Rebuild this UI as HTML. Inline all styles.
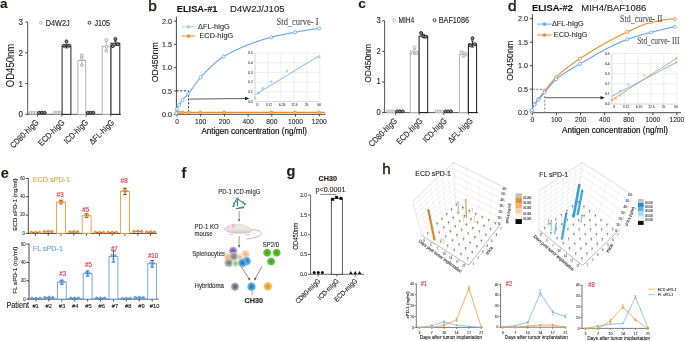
<!DOCTYPE html>
<html><head><meta charset="utf-8"><style>
html,body{margin:0;padding:0;background:#fff;overflow:hidden;}
svg{display:block;font-family:"Liberation Sans", sans-serif;filter:blur(0.35px);}
text{stroke:currentColor;stroke-width:0.12px;paint-order:stroke;}
</style></head><body>
<svg width="685" height="341" viewBox="0 0 685 341">
<rect width="685" height="341" fill="#fff"/>
<text x="0.00" y="7.90" font-size="13.5" text-anchor="start" font-weight="bold" fill="#231815" color="#231815">a</text>
<text x="148.20" y="10.90" font-size="15.4" text-anchor="start" font-weight="normal" fill="#231815" color="#231815" style="stroke-width:0.4px">b</text>
<text x="358.20" y="8.20" font-size="13.5" text-anchor="start" font-weight="bold" fill="#231815" color="#231815">c</text>
<text x="507.90" y="10.90" font-size="15.4" text-anchor="start" font-weight="normal" fill="#231815" color="#231815" style="stroke-width:0.4px">d</text>
<text x="0.80" y="177.80" font-size="14.5" text-anchor="start" font-weight="bold" fill="#231815" color="#231815">e</text>
<text x="181.60" y="177.60" font-size="14.5" text-anchor="start" font-weight="bold" fill="#231815" color="#231815">f</text>
<text x="286.60" y="175.70" font-size="14.5" text-anchor="start" font-weight="bold" fill="#231815" color="#231815">g</text>
<text x="382.20" y="173.90" font-size="15.2" text-anchor="start" font-weight="normal" fill="#231815" color="#231815" style="stroke-width:0.4px">h</text>
<line x1="27.70" y1="22.05" x2="27.70" y2="114.80" stroke="#444" stroke-width="0.9"/>
<line x1="25.30" y1="114.30" x2="27.70" y2="114.30" stroke="#444" stroke-width="1.0"/>
<text x="23.00" y="117.40" font-size="9.2" text-anchor="end" font-weight="normal" fill="#222" color="#222" textLength="4.45" lengthAdjust="spacingAndGlyphs">0</text>
<line x1="25.30" y1="83.55" x2="27.70" y2="83.55" stroke="#444" stroke-width="1.0"/>
<text x="23.00" y="86.65" font-size="9.2" text-anchor="end" font-weight="normal" fill="#222" color="#222" textLength="4.45" lengthAdjust="spacingAndGlyphs">1</text>
<line x1="25.30" y1="52.80" x2="27.70" y2="52.80" stroke="#444" stroke-width="1.0"/>
<text x="23.00" y="55.90" font-size="9.2" text-anchor="end" font-weight="normal" fill="#222" color="#222" textLength="4.45" lengthAdjust="spacingAndGlyphs">2</text>
<line x1="25.30" y1="22.05" x2="27.70" y2="22.05" stroke="#444" stroke-width="1.0"/>
<text x="23.00" y="25.15" font-size="9.2" text-anchor="end" font-weight="normal" fill="#222" color="#222" textLength="4.45" lengthAdjust="spacingAndGlyphs">3</text>
<line x1="27.30" y1="114.30" x2="121.00" y2="114.30" stroke="#444" stroke-width="0.9"/>
<line x1="37.50" y1="114.30" x2="37.50" y2="116.50" stroke="#444" stroke-width="0.9"/>
<line x1="61.80" y1="114.30" x2="61.80" y2="116.50" stroke="#444" stroke-width="0.9"/>
<line x1="86.20" y1="114.30" x2="86.20" y2="116.50" stroke="#444" stroke-width="0.9"/>
<line x1="110.70" y1="114.30" x2="110.70" y2="116.50" stroke="#444" stroke-width="0.9"/>
<line x1="28.80" y1="112.76" x2="37.50" y2="112.76" stroke="#b0b0b0" stroke-width="1.0"/>
<circle cx="30.45" cy="112.76" r="1.5" fill="#e4e4e4" stroke="#b0b0b0" stroke-width="0.85"/>
<circle cx="33.15" cy="112.76" r="1.5" fill="#e4e4e4" stroke="#b0b0b0" stroke-width="0.85"/>
<circle cx="35.85" cy="112.76" r="1.5" fill="#e4e4e4" stroke="#b0b0b0" stroke-width="0.85"/>
<line x1="37.50" y1="112.76" x2="46.30" y2="112.76" stroke="#151515" stroke-width="1.0"/>
<circle cx="39.20" cy="112.76" r="1.5" fill="#8a8a8a" stroke="#151515" stroke-width="0.85"/>
<circle cx="41.90" cy="112.76" r="1.5" fill="#8a8a8a" stroke="#151515" stroke-width="0.85"/>
<circle cx="44.60" cy="112.76" r="1.5" fill="#8a8a8a" stroke="#151515" stroke-width="0.85"/>
<line x1="53.00" y1="112.76" x2="61.80" y2="112.76" stroke="#b0b0b0" stroke-width="1.0"/>
<circle cx="54.70" cy="112.76" r="1.5" fill="#e4e4e4" stroke="#b0b0b0" stroke-width="0.85"/>
<circle cx="57.40" cy="112.76" r="1.5" fill="#e4e4e4" stroke="#b0b0b0" stroke-width="0.85"/>
<circle cx="60.10" cy="112.76" r="1.5" fill="#e4e4e4" stroke="#b0b0b0" stroke-width="0.85"/>
<rect x="62.10" y="46.03" width="8.80" height="68.27" fill="white" stroke="#151515" stroke-width="0.95"/>
<line x1="66.50" y1="44.19" x2="66.50" y2="47.88" stroke="#151515" stroke-width="0.8"/>
<line x1="65.00" y1="44.19" x2="68.00" y2="44.19" stroke="#151515" stroke-width="0.8"/>
<line x1="65.00" y1="47.88" x2="68.00" y2="47.88" stroke="#151515" stroke-width="0.8"/>
<circle cx="64.00" cy="45.73" r="1.5" fill="#8a8a8a" stroke="#151515" stroke-width="0.85"/>
<circle cx="66.50" cy="41.42" r="1.5" fill="#8a8a8a" stroke="#151515" stroke-width="0.85"/>
<circle cx="69.00" cy="45.73" r="1.5" fill="#8a8a8a" stroke="#151515" stroke-width="0.85"/>
<rect x="77.90" y="60.49" width="7.80" height="53.81" fill="white" stroke="#b0b0b0" stroke-width="0.95"/>
<line x1="81.80" y1="56.49" x2="81.80" y2="64.48" stroke="#b0b0b0" stroke-width="0.8"/>
<line x1="80.30" y1="56.49" x2="83.30" y2="56.49" stroke="#b0b0b0" stroke-width="0.8"/>
<line x1="80.30" y1="64.48" x2="83.30" y2="64.48" stroke="#b0b0b0" stroke-width="0.8"/>
<circle cx="81.80" cy="55.26" r="1.5" fill="#e4e4e4" stroke="#b0b0b0" stroke-width="0.85"/>
<circle cx="81.80" cy="58.03" r="1.5" fill="#e4e4e4" stroke="#b0b0b0" stroke-width="0.85"/>
<circle cx="81.80" cy="65.10" r="1.5" fill="#e4e4e4" stroke="#b0b0b0" stroke-width="0.85"/>
<line x1="86.20" y1="112.76" x2="95.00" y2="112.76" stroke="#151515" stroke-width="1.0"/>
<circle cx="87.90" cy="112.76" r="1.5" fill="#8a8a8a" stroke="#151515" stroke-width="0.85"/>
<circle cx="90.60" cy="112.76" r="1.5" fill="#8a8a8a" stroke="#151515" stroke-width="0.85"/>
<circle cx="93.30" cy="112.76" r="1.5" fill="#8a8a8a" stroke="#151515" stroke-width="0.85"/>
<rect x="102.20" y="46.34" width="8.30" height="67.96" fill="white" stroke="#b0b0b0" stroke-width="0.95"/>
<line x1="106.35" y1="41.73" x2="106.35" y2="50.95" stroke="#b0b0b0" stroke-width="0.8"/>
<line x1="104.85" y1="41.73" x2="107.85" y2="41.73" stroke="#b0b0b0" stroke-width="0.8"/>
<line x1="104.85" y1="50.95" x2="107.85" y2="50.95" stroke="#b0b0b0" stroke-width="0.8"/>
<circle cx="106.35" cy="39.89" r="1.5" fill="#e4e4e4" stroke="#b0b0b0" stroke-width="0.85"/>
<circle cx="106.35" cy="46.65" r="1.5" fill="#e4e4e4" stroke="#b0b0b0" stroke-width="0.85"/>
<circle cx="106.35" cy="50.65" r="1.5" fill="#e4e4e4" stroke="#b0b0b0" stroke-width="0.85"/>
<rect x="111.00" y="43.27" width="8.80" height="71.03" fill="white" stroke="#151515" stroke-width="0.95"/>
<line x1="115.40" y1="41.11" x2="115.40" y2="45.42" stroke="#151515" stroke-width="0.8"/>
<line x1="113.90" y1="41.11" x2="116.90" y2="41.11" stroke="#151515" stroke-width="0.8"/>
<line x1="113.90" y1="45.42" x2="116.90" y2="45.42" stroke="#151515" stroke-width="0.8"/>
<circle cx="115.40" cy="38.96" r="1.5" fill="#8a8a8a" stroke="#151515" stroke-width="0.85"/>
<circle cx="112.90" cy="46.03" r="1.5" fill="#8a8a8a" stroke="#151515" stroke-width="0.85"/>
<circle cx="117.90" cy="44.19" r="1.5" fill="#8a8a8a" stroke="#151515" stroke-width="0.85"/>
<text x="13.70" y="65.50" font-size="11.11" text-anchor="middle" font-weight="normal" fill="#222" color="#222" transform="rotate(-90 13.7 65.5)" textLength="43.3" lengthAdjust="spacingAndGlyphs">OD450nm</text>
<text x="39.20" y="123.00" font-size="8.42" text-anchor="end" font-weight="normal" fill="#222" color="#222" transform="rotate(-45 39.2 123.0)" textLength="36.42" lengthAdjust="spacingAndGlyphs">CD80-hIgG</text>
<text x="65.10" y="123.00" font-size="8.42" text-anchor="end" font-weight="normal" fill="#222" color="#222" transform="rotate(-45 65.1 123.0)" textLength="33.21" lengthAdjust="spacingAndGlyphs">ECD-hIgG</text>
<text x="88.70" y="123.00" font-size="8.42" text-anchor="end" font-weight="normal" fill="#222" color="#222" transform="rotate(-45 88.7 123.0)" textLength="30.41" lengthAdjust="spacingAndGlyphs">ICD-hIgG</text>
<text x="114.70" y="123.00" font-size="8.42" text-anchor="end" font-weight="normal" fill="#222" color="#222" transform="rotate(-45 114.7 123.0)" textLength="31.22" lengthAdjust="spacingAndGlyphs">ΔFL-hIgG</text>
<circle cx="40.80" cy="22.70" r="1.45" fill="white" stroke="#b0b0b0" stroke-width="0.85"/>
<text x="45.70" y="25.90" font-size="8.19" text-anchor="start" font-weight="normal" fill="#222" color="#222" textLength="24.0" lengthAdjust="spacingAndGlyphs">D4W2J</text>
<circle cx="89.50" cy="22.70" r="1.45" fill="white" stroke="#151515" stroke-width="0.85"/>
<text x="94.40" y="25.90" font-size="8.19" text-anchor="start" font-weight="normal" fill="#222" color="#222" textLength="15.6" lengthAdjust="spacingAndGlyphs">J105</text>
<line x1="384.60" y1="20.80" x2="384.60" y2="113.10" stroke="#444" stroke-width="0.9"/>
<line x1="382.20" y1="112.60" x2="384.60" y2="112.60" stroke="#444" stroke-width="1.0"/>
<text x="380.80" y="115.00" font-size="8.36" text-anchor="end" font-weight="normal" fill="#222" color="#222" textLength="4.23" lengthAdjust="spacingAndGlyphs">0</text>
<line x1="382.20" y1="82.00" x2="384.60" y2="82.00" stroke="#444" stroke-width="1.0"/>
<text x="380.80" y="84.40" font-size="8.36" text-anchor="end" font-weight="normal" fill="#222" color="#222" textLength="4.23" lengthAdjust="spacingAndGlyphs">1</text>
<line x1="382.20" y1="51.40" x2="384.60" y2="51.40" stroke="#444" stroke-width="1.0"/>
<text x="380.80" y="53.80" font-size="8.36" text-anchor="end" font-weight="normal" fill="#222" color="#222" textLength="4.23" lengthAdjust="spacingAndGlyphs">2</text>
<line x1="382.20" y1="20.80" x2="384.60" y2="20.80" stroke="#444" stroke-width="1.0"/>
<text x="380.80" y="23.20" font-size="8.36" text-anchor="end" font-weight="normal" fill="#222" color="#222" textLength="4.23" lengthAdjust="spacingAndGlyphs">3</text>
<line x1="384.20" y1="112.60" x2="478.00" y2="112.60" stroke="#444" stroke-width="0.9"/>
<line x1="395.50" y1="112.60" x2="395.50" y2="114.80" stroke="#444" stroke-width="0.9"/>
<line x1="419.20" y1="112.60" x2="419.20" y2="114.80" stroke="#444" stroke-width="0.9"/>
<line x1="443.80" y1="112.60" x2="443.80" y2="114.80" stroke="#444" stroke-width="0.9"/>
<line x1="468.40" y1="112.60" x2="468.40" y2="114.80" stroke="#444" stroke-width="0.9"/>
<line x1="386.50" y1="111.38" x2="395.50" y2="111.38" stroke="#b0b0b0" stroke-width="1.0"/>
<circle cx="388.30" cy="111.38" r="1.5" fill="#e4e4e4" stroke="#b0b0b0" stroke-width="0.85"/>
<circle cx="391.00" cy="111.38" r="1.5" fill="#e4e4e4" stroke="#b0b0b0" stroke-width="0.85"/>
<circle cx="393.70" cy="111.38" r="1.5" fill="#e4e4e4" stroke="#b0b0b0" stroke-width="0.85"/>
<line x1="395.50" y1="111.38" x2="404.30" y2="111.38" stroke="#151515" stroke-width="1.0"/>
<circle cx="397.20" cy="111.38" r="1.5" fill="#8a8a8a" stroke="#151515" stroke-width="0.85"/>
<circle cx="399.90" cy="111.38" r="1.5" fill="#8a8a8a" stroke="#151515" stroke-width="0.85"/>
<circle cx="402.60" cy="111.38" r="1.5" fill="#8a8a8a" stroke="#151515" stroke-width="0.85"/>
<rect x="410.30" y="52.01" width="8.40" height="60.59" fill="white" stroke="#b0b0b0" stroke-width="1.0"/>
<line x1="414.50" y1="49.56" x2="414.50" y2="54.46" stroke="#b0b0b0" stroke-width="0.8"/>
<line x1="413.00" y1="49.56" x2="416.00" y2="49.56" stroke="#b0b0b0" stroke-width="0.8"/>
<line x1="413.00" y1="54.46" x2="416.00" y2="54.46" stroke="#b0b0b0" stroke-width="0.8"/>
<circle cx="414.50" cy="47.42" r="1.5" fill="#e4e4e4" stroke="#b0b0b0" stroke-width="0.85"/>
<circle cx="412.20" cy="52.32" r="1.5" fill="#e4e4e4" stroke="#b0b0b0" stroke-width="0.85"/>
<circle cx="416.80" cy="53.24" r="1.5" fill="#e4e4e4" stroke="#b0b0b0" stroke-width="0.85"/>
<rect x="419.10" y="36.10" width="8.60" height="76.50" fill="white" stroke="#151515" stroke-width="1.0"/>
<line x1="423.40" y1="34.57" x2="423.40" y2="37.63" stroke="#151515" stroke-width="0.8"/>
<line x1="421.90" y1="34.57" x2="424.90" y2="34.57" stroke="#151515" stroke-width="0.8"/>
<line x1="421.90" y1="37.63" x2="424.90" y2="37.63" stroke="#151515" stroke-width="0.8"/>
<circle cx="421.10" cy="33.04" r="1.5" fill="#8a8a8a" stroke="#151515" stroke-width="0.85"/>
<circle cx="423.40" cy="36.10" r="1.5" fill="#8a8a8a" stroke="#151515" stroke-width="0.85"/>
<circle cx="425.70" cy="36.71" r="1.5" fill="#8a8a8a" stroke="#151515" stroke-width="0.85"/>
<line x1="435.00" y1="111.38" x2="443.80" y2="111.38" stroke="#b0b0b0" stroke-width="1.0"/>
<circle cx="436.70" cy="111.38" r="1.5" fill="#e4e4e4" stroke="#b0b0b0" stroke-width="0.85"/>
<circle cx="439.40" cy="111.38" r="1.5" fill="#e4e4e4" stroke="#b0b0b0" stroke-width="0.85"/>
<circle cx="442.10" cy="111.38" r="1.5" fill="#e4e4e4" stroke="#b0b0b0" stroke-width="0.85"/>
<line x1="443.80" y1="111.38" x2="452.60" y2="111.38" stroke="#151515" stroke-width="1.0"/>
<circle cx="445.50" cy="111.38" r="1.5" fill="#8a8a8a" stroke="#151515" stroke-width="0.85"/>
<circle cx="448.20" cy="111.38" r="1.5" fill="#8a8a8a" stroke="#151515" stroke-width="0.85"/>
<circle cx="450.90" cy="111.38" r="1.5" fill="#8a8a8a" stroke="#151515" stroke-width="0.85"/>
<rect x="459.40" y="54.46" width="8.60" height="58.14" fill="white" stroke="#b0b0b0" stroke-width="1.0"/>
<line x1="463.70" y1="52.01" x2="463.70" y2="56.91" stroke="#b0b0b0" stroke-width="0.8"/>
<line x1="462.20" y1="52.01" x2="465.20" y2="52.01" stroke="#b0b0b0" stroke-width="0.8"/>
<line x1="462.20" y1="56.91" x2="465.20" y2="56.91" stroke="#b0b0b0" stroke-width="0.8"/>
<circle cx="461.40" cy="52.01" r="1.5" fill="#e4e4e4" stroke="#b0b0b0" stroke-width="0.85"/>
<circle cx="463.70" cy="55.99" r="1.5" fill="#e4e4e4" stroke="#b0b0b0" stroke-width="0.85"/>
<circle cx="466.00" cy="53.85" r="1.5" fill="#e4e4e4" stroke="#b0b0b0" stroke-width="0.85"/>
<rect x="468.40" y="44.06" width="8.20" height="68.54" fill="white" stroke="#151515" stroke-width="1.0"/>
<line x1="472.50" y1="41.00" x2="472.50" y2="47.12" stroke="#151515" stroke-width="0.8"/>
<line x1="471.00" y1="41.00" x2="474.00" y2="41.00" stroke="#151515" stroke-width="0.8"/>
<line x1="471.00" y1="47.12" x2="474.00" y2="47.12" stroke="#151515" stroke-width="0.8"/>
<circle cx="472.50" cy="38.24" r="1.5" fill="#8a8a8a" stroke="#151515" stroke-width="0.85"/>
<circle cx="470.20" cy="45.28" r="1.5" fill="#8a8a8a" stroke="#151515" stroke-width="0.85"/>
<circle cx="474.80" cy="44.36" r="1.5" fill="#8a8a8a" stroke="#151515" stroke-width="0.85"/>
<text x="370.60" y="63.40" font-size="9.95" text-anchor="middle" font-weight="normal" fill="#222" color="#222" transform="rotate(-90 370.6 63.4)" textLength="38.74" lengthAdjust="spacingAndGlyphs">OD450nm</text>
<text x="397.80" y="121.50" font-size="8.42" text-anchor="end" font-weight="normal" fill="#222" color="#222" transform="rotate(-45 397.8 121.5)" textLength="36.42" lengthAdjust="spacingAndGlyphs">CD80-hIgG</text>
<text x="423.20" y="121.50" font-size="8.42" text-anchor="end" font-weight="normal" fill="#222" color="#222" transform="rotate(-45 423.2 121.5)" textLength="33.21" lengthAdjust="spacingAndGlyphs">ECD-hIgG</text>
<text x="447.40" y="121.50" font-size="8.42" text-anchor="end" font-weight="normal" fill="#222" color="#222" transform="rotate(-45 447.40000000000003 121.5)" textLength="30.41" lengthAdjust="spacingAndGlyphs">ICD-hIgG</text>
<text x="473.40" y="121.50" font-size="8.42" text-anchor="end" font-weight="normal" fill="#222" color="#222" transform="rotate(-45 473.4 121.5)" textLength="31.22" lengthAdjust="spacingAndGlyphs">ΔFL-hIgG</text>
<circle cx="394.20" cy="20.20" r="1.45" fill="white" stroke="#b0b0b0" stroke-width="0.85"/>
<text x="398.40" y="22.70" font-size="8.19" text-anchor="start" font-weight="normal" fill="#222" color="#222" textLength="15.8" lengthAdjust="spacingAndGlyphs">MIH4</text>
<circle cx="434.50" cy="20.20" r="1.45" fill="white" stroke="#151515" stroke-width="0.85"/>
<text x="438.70" y="22.70" font-size="8.19" text-anchor="start" font-weight="normal" fill="#222" color="#222" textLength="30.3" lengthAdjust="spacingAndGlyphs">BAF1086</text>
<line x1="176.40" y1="16.60" x2="176.40" y2="114.80" stroke="#333" stroke-width="0.9"/>
<line x1="173.90" y1="114.30" x2="176.40" y2="114.30" stroke="#333" stroke-width="0.9"/>
<text x="172.00" y="116.80" font-size="7.56" text-anchor="end" font-weight="normal" fill="#2a2a2a" color="#2a2a2a" textLength="10.01" lengthAdjust="spacingAndGlyphs">0.0</text>
<line x1="173.90" y1="91.00" x2="176.40" y2="91.00" stroke="#333" stroke-width="0.9"/>
<text x="172.00" y="93.50" font-size="7.56" text-anchor="end" font-weight="normal" fill="#2a2a2a" color="#2a2a2a" textLength="10.01" lengthAdjust="spacingAndGlyphs">0.5</text>
<line x1="173.90" y1="67.70" x2="176.40" y2="67.70" stroke="#333" stroke-width="0.9"/>
<text x="172.00" y="70.20" font-size="7.56" text-anchor="end" font-weight="normal" fill="#2a2a2a" color="#2a2a2a" textLength="10.01" lengthAdjust="spacingAndGlyphs">1.0</text>
<line x1="173.90" y1="44.40" x2="176.40" y2="44.40" stroke="#333" stroke-width="0.9"/>
<text x="172.00" y="46.90" font-size="7.56" text-anchor="end" font-weight="normal" fill="#2a2a2a" color="#2a2a2a" textLength="10.01" lengthAdjust="spacingAndGlyphs">1.5</text>
<line x1="173.90" y1="21.10" x2="176.40" y2="21.10" stroke="#333" stroke-width="0.9"/>
<text x="172.00" y="23.60" font-size="7.56" text-anchor="end" font-weight="normal" fill="#2a2a2a" color="#2a2a2a" textLength="10.01" lengthAdjust="spacingAndGlyphs">2.0</text>
<line x1="176.00" y1="114.30" x2="325.50" y2="114.30" stroke="#333" stroke-width="0.9"/>
<line x1="177.00" y1="114.30" x2="177.00" y2="116.60" stroke="#333" stroke-width="0.9"/>
<text x="177.00" y="123.50" font-size="7.84" text-anchor="middle" font-weight="normal" fill="#2a2a2a" color="#2a2a2a" textLength="3.73" lengthAdjust="spacingAndGlyphs">0</text>
<line x1="200.70" y1="114.30" x2="200.70" y2="116.60" stroke="#333" stroke-width="0.9"/>
<text x="200.70" y="123.50" font-size="7.84" text-anchor="middle" font-weight="normal" fill="#2a2a2a" color="#2a2a2a" textLength="11.18" lengthAdjust="spacingAndGlyphs">100</text>
<line x1="224.40" y1="114.30" x2="224.40" y2="116.60" stroke="#333" stroke-width="0.9"/>
<text x="224.40" y="123.50" font-size="7.84" text-anchor="middle" font-weight="normal" fill="#2a2a2a" color="#2a2a2a" textLength="11.18" lengthAdjust="spacingAndGlyphs">200</text>
<line x1="248.10" y1="114.30" x2="248.10" y2="116.60" stroke="#333" stroke-width="0.9"/>
<text x="248.10" y="123.50" font-size="7.84" text-anchor="middle" font-weight="normal" fill="#2a2a2a" color="#2a2a2a" textLength="11.18" lengthAdjust="spacingAndGlyphs">400</text>
<line x1="271.80" y1="114.30" x2="271.80" y2="116.60" stroke="#333" stroke-width="0.9"/>
<text x="271.80" y="123.50" font-size="7.84" text-anchor="middle" font-weight="normal" fill="#2a2a2a" color="#2a2a2a" textLength="11.18" lengthAdjust="spacingAndGlyphs">800</text>
<line x1="295.50" y1="114.30" x2="295.50" y2="116.60" stroke="#333" stroke-width="0.9"/>
<text x="295.50" y="123.50" font-size="7.84" text-anchor="middle" font-weight="normal" fill="#2a2a2a" color="#2a2a2a" textLength="14.91" lengthAdjust="spacingAndGlyphs">1000</text>
<line x1="319.20" y1="114.30" x2="319.20" y2="116.60" stroke="#333" stroke-width="0.9"/>
<text x="319.20" y="123.50" font-size="7.84" text-anchor="middle" font-weight="normal" fill="#2a2a2a" color="#2a2a2a" textLength="14.91" lengthAdjust="spacingAndGlyphs">1200</text>
<text x="254.20" y="134.20" font-size="9.48" text-anchor="middle" font-weight="normal" fill="#111" color="#111" textLength="105.5" lengthAdjust="spacingAndGlyphs" style="stroke-width:0.2px">Antigen concentration (ng/ml)</text>
<text x="157.60" y="62.20" font-size="9.24" text-anchor="middle" font-weight="normal" fill="#1a1a1a" color="#1a1a1a" transform="rotate(-90 157.6 62.2)" textLength="40.11" lengthAdjust="spacingAndGlyphs">OD450nm</text>
<text x="176.70" y="11.90" font-size="9.78" text-anchor="start" font-weight="bold" fill="#111" color="#111" textLength="40.8" lengthAdjust="spacingAndGlyphs">ELISA-#1</text>
<text x="230.10" y="11.90" font-size="9.88" text-anchor="start" font-weight="normal" fill="#222" color="#222" textLength="54.38" lengthAdjust="spacingAndGlyphs">D4W2J/J105</text>
<line x1="176.40" y1="90.80" x2="188.60" y2="90.80" stroke="#222" stroke-width="0.9" stroke-dasharray="2.2,1.6"/>
<line x1="188.60" y1="90.80" x2="188.60" y2="114.30" stroke="#222" stroke-width="0.9" stroke-dasharray="2.2,1.6"/>
<line x1="189.60" y1="99.10" x2="246.00" y2="98.50" stroke="#333" stroke-width="0.8"/>
<path d="M249.50,98.50 L245.00,96.70 L245.00,100.30 Z" fill="#222" stroke="none" stroke-width="1"/>
<line x1="255.00" y1="53.00" x2="255.00" y2="101.60" stroke="#e2e2e2" stroke-width="0.6"/>
<line x1="267.96" y1="53.00" x2="267.96" y2="101.60" stroke="#e2e2e2" stroke-width="0.6"/>
<line x1="280.92" y1="53.00" x2="280.92" y2="101.60" stroke="#e2e2e2" stroke-width="0.6"/>
<line x1="293.88" y1="53.00" x2="293.88" y2="101.60" stroke="#e2e2e2" stroke-width="0.6"/>
<line x1="306.84" y1="53.00" x2="306.84" y2="101.60" stroke="#e2e2e2" stroke-width="0.6"/>
<line x1="319.80" y1="53.00" x2="319.80" y2="101.60" stroke="#e2e2e2" stroke-width="0.6"/>
<line x1="255.00" y1="53.00" x2="319.80" y2="53.00" stroke="#e2e2e2" stroke-width="0.6"/>
<line x1="255.00" y1="62.72" x2="319.80" y2="62.72" stroke="#e2e2e2" stroke-width="0.6"/>
<line x1="255.00" y1="72.44" x2="319.80" y2="72.44" stroke="#e2e2e2" stroke-width="0.6"/>
<line x1="255.00" y1="82.16" x2="319.80" y2="82.16" stroke="#e2e2e2" stroke-width="0.6"/>
<line x1="255.00" y1="91.88" x2="319.80" y2="91.88" stroke="#e2e2e2" stroke-width="0.6"/>
<line x1="255.00" y1="101.60" x2="319.80" y2="101.60" stroke="#e2e2e2" stroke-width="0.6"/>
<line x1="255.00" y1="53.00" x2="255.00" y2="101.60" stroke="#cfcfcf" stroke-width="0.6"/>
<line x1="255.00" y1="101.60" x2="319.80" y2="101.60" stroke="#cfcfcf" stroke-width="0.6"/>
<text x="252.90" y="102.80" font-size="3.86" text-anchor="end" font-weight="normal" fill="#555" color="#555" textLength="4.59" lengthAdjust="spacingAndGlyphs">0.0</text>
<text x="252.90" y="93.08" font-size="3.86" text-anchor="end" font-weight="normal" fill="#555" color="#555" textLength="4.59" lengthAdjust="spacingAndGlyphs">0.1</text>
<text x="252.90" y="83.36" font-size="3.86" text-anchor="end" font-weight="normal" fill="#555" color="#555" textLength="4.59" lengthAdjust="spacingAndGlyphs">0.2</text>
<text x="252.90" y="73.64" font-size="3.86" text-anchor="end" font-weight="normal" fill="#555" color="#555" textLength="4.59" lengthAdjust="spacingAndGlyphs">0.3</text>
<text x="252.90" y="63.92" font-size="3.86" text-anchor="end" font-weight="normal" fill="#555" color="#555" textLength="4.59" lengthAdjust="spacingAndGlyphs">0.4</text>
<text x="252.90" y="54.20" font-size="3.86" text-anchor="end" font-weight="normal" fill="#555" color="#555" textLength="4.59" lengthAdjust="spacingAndGlyphs">0.5</text>
<text x="257.30" y="105.90" font-size="3.86" text-anchor="middle" font-weight="normal" fill="#555" color="#555" textLength="1.84" lengthAdjust="spacingAndGlyphs">0</text>
<text x="269.00" y="105.90" font-size="3.86" text-anchor="middle" font-weight="normal" fill="#555" color="#555" textLength="6.42" lengthAdjust="spacingAndGlyphs">3.12</text>
<text x="282.20" y="105.90" font-size="3.86" text-anchor="middle" font-weight="normal" fill="#555" color="#555" textLength="6.42" lengthAdjust="spacingAndGlyphs">6.25</text>
<text x="294.50" y="105.90" font-size="3.86" text-anchor="middle" font-weight="normal" fill="#555" color="#555" textLength="6.42" lengthAdjust="spacingAndGlyphs">12.5</text>
<text x="306.50" y="105.90" font-size="3.86" text-anchor="middle" font-weight="normal" fill="#555" color="#555" textLength="3.67" lengthAdjust="spacingAndGlyphs">25</text>
<text x="319.10" y="105.90" font-size="3.86" text-anchor="middle" font-weight="normal" fill="#555" color="#555" textLength="3.67" lengthAdjust="spacingAndGlyphs">50</text>
<line x1="255.50" y1="94.50" x2="319.80" y2="55.50" stroke="#62a6f2" stroke-width="0.8"/>
<circle cx="255.30" cy="98.20" r="0.9" fill="none" stroke="#62a6f2" stroke-width="0.5"/>
<circle cx="258.60" cy="93.30" r="0.9" fill="none" stroke="#62a6f2" stroke-width="0.5"/>
<circle cx="263.00" cy="88.20" r="0.9" fill="none" stroke="#62a6f2" stroke-width="0.5"/>
<circle cx="271.00" cy="81.50" r="0.9" fill="none" stroke="#62a6f2" stroke-width="0.5"/>
<circle cx="287.00" cy="70.80" r="0.9" fill="none" stroke="#62a6f2" stroke-width="0.5"/>
<circle cx="319.30" cy="57.50" r="0.9" fill="none" stroke="#62a6f2" stroke-width="0.5"/>
<line x1="176.90" y1="112.40" x2="325.00" y2="112.40" stroke="#f08a2c" stroke-width="1.1"/>
<circle cx="176.90" cy="112.40" r="1.45" fill="#f8bf80" stroke="#f08a2c" stroke-width="0.8"/>
<circle cx="179.40" cy="112.40" r="1.45" fill="#f8bf80" stroke="#f08a2c" stroke-width="0.8"/>
<circle cx="182.70" cy="112.40" r="1.45" fill="#f8bf80" stroke="#f08a2c" stroke-width="0.8"/>
<circle cx="188.60" cy="112.40" r="1.45" fill="#f8bf80" stroke="#f08a2c" stroke-width="0.8"/>
<circle cx="200.40" cy="112.40" r="1.45" fill="#f8bf80" stroke="#f08a2c" stroke-width="0.8"/>
<circle cx="224.20" cy="112.40" r="1.45" fill="#f8bf80" stroke="#f08a2c" stroke-width="0.8"/>
<circle cx="271.20" cy="112.40" r="1.45" fill="#f8bf80" stroke="#f08a2c" stroke-width="0.8"/>
<circle cx="294.90" cy="112.40" r="1.45" fill="#f8bf80" stroke="#f08a2c" stroke-width="0.8"/>
<circle cx="319.10" cy="112.40" r="1.45" fill="#f8bf80" stroke="#f08a2c" stroke-width="0.8"/>
<path d="M176.40,113.20 L176.90,109.20 L177.40,107.78 L177.90,106.82 L178.40,106.11 L178.90,105.46 L179.40,104.67 L179.90,103.85 L180.40,103.04 L180.90,102.27 L181.40,101.52 L181.90,100.80 L182.40,100.13 L182.90,99.50 L183.40,98.91 L183.90,98.34 L184.40,97.80 L184.90,97.28 L185.40,96.77 L185.90,96.27 L186.40,95.76 L186.90,95.25 L187.40,94.72 L187.90,94.17 L188.40,93.60 L188.90,93.00 L189.40,92.38 L189.90,91.74 L190.40,91.09 L190.90,90.42 L191.40,89.74 L191.90,89.05 L192.40,88.35 L192.90,87.65 L193.40,86.94 L193.90,86.22 L194.40,85.51 L194.90,84.80 L195.40,84.09 L195.90,83.39 L196.40,82.70 L196.90,82.01 L197.40,81.34 L197.90,80.67 L198.40,80.03 L198.90,79.39 L199.40,78.78 L199.90,78.19 L200.40,77.62 L200.90,77.07 L201.40,76.53 L201.90,75.98 L202.40,75.44 L202.90,74.90 L203.40,74.36 L203.90,73.83 L204.40,73.30 L204.90,72.77 L205.40,72.24 L205.90,71.72 L206.40,71.20 L206.90,70.68 L207.40,70.17 L207.90,69.66 L208.40,69.15 L208.90,68.65 L209.40,68.16 L209.90,67.67 L210.40,67.18 L210.90,66.70 L211.40,66.22 L211.90,65.75 L212.40,65.28 L212.90,64.82 L213.40,64.37 L213.90,63.92 L214.40,63.47 L214.90,63.04 L215.40,62.61 L215.90,62.18 L216.40,61.77 L216.90,61.36 L217.40,60.95 L217.90,60.56 L218.40,60.17 L218.90,59.79 L219.40,59.42 L219.90,59.05 L220.40,58.70 L220.90,58.35 L221.40,58.01 L221.90,57.68 L222.40,57.35 L222.90,57.04 L223.40,56.74 L223.90,56.44 L224.40,56.15 L224.90,55.86 L225.40,55.58 L225.90,55.29 L226.40,55.01 L226.90,54.73 L227.40,54.46 L227.90,54.18 L228.40,53.91 L228.90,53.64 L229.40,53.37 L229.90,53.11 L230.40,52.84 L230.90,52.58 L231.40,52.32 L231.90,52.06 L232.40,51.81 L232.90,51.56 L233.40,51.31 L233.90,51.06 L234.40,50.81 L234.90,50.56 L235.40,50.32 L235.90,50.08 L236.40,49.84 L236.90,49.61 L237.40,49.37 L237.90,49.14 L238.40,48.91 L238.90,48.68 L239.40,48.45 L239.90,48.23 L240.40,48.00 L240.90,47.78 L241.40,47.56 L241.90,47.34 L242.40,47.13 L242.90,46.91 L243.40,46.70 L243.90,46.49 L244.40,46.28 L244.90,46.08 L245.40,45.87 L245.90,45.67 L246.40,45.46 L246.90,45.26 L247.40,45.07 L247.90,44.87 L248.40,44.67 L248.90,44.48 L249.40,44.29 L249.90,44.10 L250.40,43.91 L250.90,43.72 L251.40,43.54 L251.90,43.35 L252.40,43.17 L252.90,42.99 L253.40,42.81 L253.90,42.63 L254.40,42.46 L254.90,42.28 L255.40,42.11 L255.90,41.94 L256.40,41.77 L256.90,41.60 L257.40,41.43 L257.90,41.26 L258.40,41.10 L258.90,40.93 L259.40,40.77 L259.90,40.61 L260.40,40.45 L260.90,40.29 L261.40,40.14 L261.90,39.98 L262.40,39.83 L262.90,39.67 L263.40,39.52 L263.90,39.37 L264.40,39.22 L264.90,39.07 L265.40,38.93 L265.90,38.78 L266.40,38.63 L266.90,38.49 L267.40,38.35 L267.90,38.21 L268.40,38.07 L268.90,37.93 L269.40,37.79 L269.90,37.65 L270.40,37.52 L270.90,37.38 L271.40,37.25 L271.90,37.11 L272.40,36.98 L272.90,36.85 L273.40,36.73 L273.90,36.60 L274.40,36.48 L274.90,36.36 L275.40,36.23 L275.90,36.11 L276.40,36.00 L276.90,35.88 L277.40,35.77 L277.90,35.65 L278.40,35.54 L278.90,35.43 L279.40,35.32 L279.90,35.21 L280.40,35.10 L280.90,34.99 L281.40,34.89 L281.90,34.78 L282.40,34.68 L282.90,34.58 L283.40,34.48 L283.90,34.38 L284.40,34.28 L284.90,34.18 L285.40,34.08 L285.90,33.98 L286.40,33.88 L286.90,33.79 L287.40,33.69 L287.90,33.60 L288.40,33.50 L288.90,33.41 L289.40,33.31 L289.90,33.22 L290.40,33.13 L290.90,33.03 L291.40,32.94 L291.90,32.85 L292.40,32.76 L292.90,32.67 L293.40,32.57 L293.90,32.48 L294.40,32.39 L294.90,32.30 L295.40,32.21 L295.90,32.12 L296.40,32.03 L296.90,31.94 L297.40,31.85 L297.90,31.76 L298.40,31.67 L298.90,31.58 L299.40,31.49 L299.90,31.41 L300.40,31.32 L300.90,31.23 L301.40,31.15 L301.90,31.06 L302.40,30.97 L302.90,30.89 L303.40,30.80 L303.90,30.72 L304.40,30.64 L304.90,30.55 L305.40,30.47 L305.90,30.39 L306.40,30.31 L306.90,30.22 L307.40,30.14 L307.90,30.06 L308.40,29.98 L308.90,29.90 L309.40,29.83 L309.90,29.75 L310.40,29.67 L310.90,29.59 L311.40,29.51 L311.90,29.44 L312.40,29.36 L312.90,29.29 L313.40,29.21 L313.90,29.14 L314.40,29.06 L314.90,28.99 L315.40,28.92 L315.90,28.85 L316.40,28.78 L316.90,28.70 L317.40,28.63 L317.90,28.56 L318.40,28.50 L318.90,28.43 L319.10,28.40" fill="none" stroke="#62a6f2" stroke-width="1.1"/>
<circle cx="176.40" cy="113.20" r="1.55" fill="white" stroke="#62a6f2" stroke-width="0.8"/>
<circle cx="176.90" cy="109.20" r="1.55" fill="white" stroke="#62a6f2" stroke-width="0.8"/>
<circle cx="179.20" cy="105.00" r="1.55" fill="white" stroke="#62a6f2" stroke-width="0.8"/>
<circle cx="182.50" cy="100.00" r="1.55" fill="white" stroke="#62a6f2" stroke-width="0.8"/>
<circle cx="188.40" cy="93.60" r="1.55" fill="white" stroke="#62a6f2" stroke-width="0.8"/>
<circle cx="200.60" cy="77.40" r="1.55" fill="white" stroke="#62a6f2" stroke-width="0.8"/>
<circle cx="223.80" cy="56.50" r="1.55" fill="white" stroke="#62a6f2" stroke-width="0.8"/>
<circle cx="271.20" cy="37.30" r="1.55" fill="white" stroke="#62a6f2" stroke-width="0.8"/>
<circle cx="294.90" cy="32.30" r="1.55" fill="white" stroke="#62a6f2" stroke-width="0.8"/>
<circle cx="319.10" cy="28.40" r="1.55" fill="white" stroke="#62a6f2" stroke-width="0.8"/>
<line x1="181.90" y1="26.80" x2="195.10" y2="26.80" stroke="#a9cdf6" stroke-width="1.0"/>
<circle cx="188.50" cy="26.80" r="1.6" fill="#a9cdf6" stroke="#a9cdf6" stroke-width="0.5"/>
<text x="198.10" y="28.80" font-size="7.81" text-anchor="start" font-weight="normal" fill="#2a2a2a" color="#2a2a2a" textLength="31.65" lengthAdjust="spacingAndGlyphs">ΔFL-hIgG</text>
<line x1="181.90" y1="36.10" x2="195.10" y2="36.10" stroke="#f08a2c" stroke-width="1.0"/>
<circle cx="188.50" cy="36.10" r="1.6" fill="#f08a2c" stroke="#f08a2c" stroke-width="0.5"/>
<text x="199.50" y="38.10" font-size="7.81" text-anchor="start" font-weight="normal" fill="#2a2a2a" color="#2a2a2a" textLength="33.67" lengthAdjust="spacingAndGlyphs">ECD-hIgG</text>
<text x="276.60" y="24.60" font-size="9.36" text-anchor="start" font-weight="normal" fill="#555" color="#555" font-family='"Liberation Serif", serif' textLength="42" lengthAdjust="spacingAndGlyphs">Std_curve- I</text>
<line x1="532.40" y1="14.20" x2="532.40" y2="113.20" stroke="#333" stroke-width="0.9"/>
<line x1="529.90" y1="112.70" x2="532.40" y2="112.70" stroke="#333" stroke-width="0.9"/>
<text x="528.00" y="115.20" font-size="7.56" text-anchor="end" font-weight="normal" fill="#2a2a2a" color="#2a2a2a" textLength="10.01" lengthAdjust="spacingAndGlyphs">0.0</text>
<line x1="529.90" y1="89.20" x2="532.40" y2="89.20" stroke="#333" stroke-width="0.9"/>
<text x="528.00" y="91.70" font-size="7.56" text-anchor="end" font-weight="normal" fill="#2a2a2a" color="#2a2a2a" textLength="10.01" lengthAdjust="spacingAndGlyphs">0.5</text>
<line x1="529.90" y1="65.70" x2="532.40" y2="65.70" stroke="#333" stroke-width="0.9"/>
<text x="528.00" y="68.20" font-size="7.56" text-anchor="end" font-weight="normal" fill="#2a2a2a" color="#2a2a2a" textLength="10.01" lengthAdjust="spacingAndGlyphs">1.0</text>
<line x1="529.90" y1="42.20" x2="532.40" y2="42.20" stroke="#333" stroke-width="0.9"/>
<text x="528.00" y="44.70" font-size="7.56" text-anchor="end" font-weight="normal" fill="#2a2a2a" color="#2a2a2a" textLength="10.01" lengthAdjust="spacingAndGlyphs">1.5</text>
<line x1="529.90" y1="18.70" x2="532.40" y2="18.70" stroke="#333" stroke-width="0.9"/>
<text x="528.00" y="21.20" font-size="7.56" text-anchor="end" font-weight="normal" fill="#2a2a2a" color="#2a2a2a" textLength="10.01" lengthAdjust="spacingAndGlyphs">2.0</text>
<line x1="532.00" y1="112.70" x2="681.00" y2="112.70" stroke="#333" stroke-width="0.9"/>
<line x1="532.40" y1="112.70" x2="532.40" y2="115.00" stroke="#333" stroke-width="0.9"/>
<text x="532.40" y="121.90" font-size="7.84" text-anchor="middle" font-weight="normal" fill="#2a2a2a" color="#2a2a2a" textLength="3.73" lengthAdjust="spacingAndGlyphs">0</text>
<line x1="556.48" y1="112.70" x2="556.48" y2="115.00" stroke="#333" stroke-width="0.9"/>
<text x="556.48" y="121.90" font-size="7.84" text-anchor="middle" font-weight="normal" fill="#2a2a2a" color="#2a2a2a" textLength="11.18" lengthAdjust="spacingAndGlyphs">100</text>
<line x1="580.56" y1="112.70" x2="580.56" y2="115.00" stroke="#333" stroke-width="0.9"/>
<text x="580.56" y="121.90" font-size="7.84" text-anchor="middle" font-weight="normal" fill="#2a2a2a" color="#2a2a2a" textLength="11.18" lengthAdjust="spacingAndGlyphs">200</text>
<line x1="604.64" y1="112.70" x2="604.64" y2="115.00" stroke="#333" stroke-width="0.9"/>
<text x="604.64" y="121.90" font-size="7.84" text-anchor="middle" font-weight="normal" fill="#2a2a2a" color="#2a2a2a" textLength="11.18" lengthAdjust="spacingAndGlyphs">400</text>
<line x1="628.72" y1="112.70" x2="628.72" y2="115.00" stroke="#333" stroke-width="0.9"/>
<text x="628.72" y="121.90" font-size="7.84" text-anchor="middle" font-weight="normal" fill="#2a2a2a" color="#2a2a2a" textLength="11.18" lengthAdjust="spacingAndGlyphs">800</text>
<line x1="652.80" y1="112.70" x2="652.80" y2="115.00" stroke="#333" stroke-width="0.9"/>
<text x="652.80" y="121.90" font-size="7.84" text-anchor="middle" font-weight="normal" fill="#2a2a2a" color="#2a2a2a" textLength="14.91" lengthAdjust="spacingAndGlyphs">1000</text>
<line x1="676.88" y1="112.70" x2="676.88" y2="115.00" stroke="#333" stroke-width="0.9"/>
<text x="676.88" y="121.90" font-size="7.84" text-anchor="middle" font-weight="normal" fill="#2a2a2a" color="#2a2a2a" textLength="14.91" lengthAdjust="spacingAndGlyphs">1200</text>
<text x="615.00" y="132.60" font-size="9.48" text-anchor="middle" font-weight="normal" fill="#111" color="#111" textLength="105.9" lengthAdjust="spacingAndGlyphs" style="stroke-width:0.2px">Antigen concentration (ng/ml)</text>
<text x="513.30" y="60.80" font-size="9.24" text-anchor="middle" font-weight="normal" fill="#1a1a1a" color="#1a1a1a" transform="rotate(-90 513.3 60.8)" textLength="40.11" lengthAdjust="spacingAndGlyphs">OD450nm</text>
<text x="532.00" y="10.60" font-size="9.78" text-anchor="start" font-weight="bold" fill="#111" color="#111" textLength="40.8" lengthAdjust="spacingAndGlyphs">ELISA-#2</text>
<text x="581.30" y="10.60" font-size="9.88" text-anchor="start" font-weight="normal" fill="#222" color="#222" textLength="64.95" lengthAdjust="spacingAndGlyphs">MIH4/BAF1086</text>
<line x1="532.40" y1="89.30" x2="544.80" y2="89.30" stroke="#7a7a7a" stroke-width="0.9" stroke-dasharray="2.2,1.6"/>
<line x1="544.80" y1="96.00" x2="544.80" y2="112.70" stroke="#7a7a7a" stroke-width="0.9" stroke-dasharray="2.2,1.6"/>
<line x1="544.80" y1="97.70" x2="601.50" y2="97.70" stroke="#333" stroke-width="0.8"/>
<path d="M605.00,97.70 L600.50,95.90 L600.50,99.50 Z" fill="#222" stroke="none" stroke-width="1"/>
<line x1="611.80" y1="53.50" x2="611.80" y2="104.10" stroke="#e2e2e2" stroke-width="0.6"/>
<line x1="624.80" y1="53.50" x2="624.80" y2="104.10" stroke="#e2e2e2" stroke-width="0.6"/>
<line x1="637.80" y1="53.50" x2="637.80" y2="104.10" stroke="#e2e2e2" stroke-width="0.6"/>
<line x1="650.80" y1="53.50" x2="650.80" y2="104.10" stroke="#e2e2e2" stroke-width="0.6"/>
<line x1="663.80" y1="53.50" x2="663.80" y2="104.10" stroke="#e2e2e2" stroke-width="0.6"/>
<line x1="676.80" y1="53.50" x2="676.80" y2="104.10" stroke="#e2e2e2" stroke-width="0.6"/>
<line x1="611.80" y1="53.50" x2="676.80" y2="53.50" stroke="#e2e2e2" stroke-width="0.6"/>
<line x1="611.80" y1="63.62" x2="676.80" y2="63.62" stroke="#e2e2e2" stroke-width="0.6"/>
<line x1="611.80" y1="73.74" x2="676.80" y2="73.74" stroke="#e2e2e2" stroke-width="0.6"/>
<line x1="611.80" y1="83.86" x2="676.80" y2="83.86" stroke="#e2e2e2" stroke-width="0.6"/>
<line x1="611.80" y1="93.98" x2="676.80" y2="93.98" stroke="#e2e2e2" stroke-width="0.6"/>
<line x1="611.80" y1="104.10" x2="676.80" y2="104.10" stroke="#e2e2e2" stroke-width="0.6"/>
<line x1="611.80" y1="53.50" x2="611.80" y2="104.10" stroke="#cfcfcf" stroke-width="0.6"/>
<line x1="611.80" y1="104.10" x2="676.80" y2="104.10" stroke="#cfcfcf" stroke-width="0.6"/>
<text x="609.70" y="105.30" font-size="3.86" text-anchor="end" font-weight="normal" fill="#555" color="#555" textLength="4.59" lengthAdjust="spacingAndGlyphs">0.0</text>
<text x="609.70" y="95.18" font-size="3.86" text-anchor="end" font-weight="normal" fill="#555" color="#555" textLength="4.59" lengthAdjust="spacingAndGlyphs">0.1</text>
<text x="609.70" y="85.06" font-size="3.86" text-anchor="end" font-weight="normal" fill="#555" color="#555" textLength="4.59" lengthAdjust="spacingAndGlyphs">0.2</text>
<text x="609.70" y="74.94" font-size="3.86" text-anchor="end" font-weight="normal" fill="#555" color="#555" textLength="4.59" lengthAdjust="spacingAndGlyphs">0.3</text>
<text x="609.70" y="64.82" font-size="3.86" text-anchor="end" font-weight="normal" fill="#555" color="#555" textLength="4.59" lengthAdjust="spacingAndGlyphs">0.4</text>
<text x="609.70" y="54.70" font-size="3.86" text-anchor="end" font-weight="normal" fill="#555" color="#555" textLength="4.59" lengthAdjust="spacingAndGlyphs">0.5</text>
<text x="614.11" y="108.40" font-size="3.86" text-anchor="middle" font-weight="normal" fill="#555" color="#555" textLength="1.84" lengthAdjust="spacingAndGlyphs">0</text>
<text x="625.84" y="108.40" font-size="3.86" text-anchor="middle" font-weight="normal" fill="#555" color="#555" textLength="6.42" lengthAdjust="spacingAndGlyphs">3.12</text>
<text x="639.08" y="108.40" font-size="3.86" text-anchor="middle" font-weight="normal" fill="#555" color="#555" textLength="6.42" lengthAdjust="spacingAndGlyphs">6.25</text>
<text x="651.42" y="108.40" font-size="3.86" text-anchor="middle" font-weight="normal" fill="#555" color="#555" textLength="6.42" lengthAdjust="spacingAndGlyphs">12.5</text>
<text x="663.46" y="108.40" font-size="3.86" text-anchor="middle" font-weight="normal" fill="#555" color="#555" textLength="3.67" lengthAdjust="spacingAndGlyphs">25</text>
<text x="676.10" y="108.40" font-size="3.86" text-anchor="middle" font-weight="normal" fill="#555" color="#555" textLength="3.67" lengthAdjust="spacingAndGlyphs">50</text>
<line x1="611.80" y1="100.00" x2="676.60" y2="58.20" stroke="#f08a2c" stroke-width="0.8"/>
<circle cx="611.80" cy="100.00" r="0.9" fill="none" stroke="#f08a2c" stroke-width="0.5"/>
<circle cx="616.00" cy="98.70" r="0.9" fill="none" stroke="#f08a2c" stroke-width="0.5"/>
<circle cx="620.30" cy="95.40" r="0.9" fill="none" stroke="#f08a2c" stroke-width="0.5"/>
<circle cx="644.10" cy="75.40" r="0.9" fill="none" stroke="#f08a2c" stroke-width="0.5"/>
<circle cx="676.30" cy="58.20" r="0.9" fill="none" stroke="#f08a2c" stroke-width="0.5"/>
<line x1="611.80" y1="96.30" x2="676.60" y2="62.30" stroke="#62a6f2" stroke-width="0.8"/>
<circle cx="620.00" cy="90.90" r="0.9" fill="none" stroke="#62a6f2" stroke-width="0.5"/>
<circle cx="628.20" cy="84.50" r="0.9" fill="none" stroke="#62a6f2" stroke-width="0.5"/>
<circle cx="676.30" cy="62.30" r="0.9" fill="none" stroke="#62a6f2" stroke-width="0.5"/>
<path d="M531.50,111.50 L532.00,109.58 L532.50,108.18 L533.00,106.98 L533.50,105.93 L534.00,105.01 L534.50,104.16 L535.00,103.39 L535.50,102.70 L536.00,102.08 L536.50,101.49 L537.00,100.93 L537.50,100.37 L538.00,99.78 L538.50,99.14 L539.00,98.48 L539.50,97.81 L540.00,97.12 L540.50,96.43 L541.00,95.74 L541.50,95.04 L542.00,94.35 L542.50,93.66 L543.00,92.98 L543.50,92.30 L544.00,91.64 L544.50,91.00 L545.00,90.36 L545.50,89.73 L546.00,89.09 L546.50,88.45 L547.00,87.82 L547.50,87.19 L548.00,86.56 L548.50,85.93 L549.00,85.31 L549.50,84.69 L550.00,84.07 L550.50,83.47 L551.00,82.87 L551.50,82.27 L552.00,81.69 L552.50,81.11 L553.00,80.55 L553.50,79.99 L554.00,79.45 L554.50,78.92 L555.00,78.39 L555.50,77.89 L556.00,77.39 L556.50,76.91 L557.00,76.44 L557.50,75.97 L558.00,75.50 L558.50,75.04 L559.00,74.59 L559.50,74.14 L560.00,73.69 L560.50,73.25 L561.00,72.81 L561.50,72.38 L562.00,71.95 L562.50,71.53 L563.00,71.11 L563.50,70.69 L564.00,70.28 L564.50,69.87 L565.00,69.47 L565.50,69.07 L566.00,68.67 L566.50,68.28 L567.00,67.89 L567.50,67.50 L568.00,67.12 L568.50,66.74 L569.00,66.36 L569.50,65.98 L570.00,65.61 L570.50,65.24 L571.00,64.88 L571.50,64.51 L572.00,64.15 L572.50,63.79 L573.00,63.43 L573.50,63.08 L574.00,62.73 L574.50,62.38 L575.00,62.03 L575.50,61.68 L576.00,61.34 L576.50,61.00 L577.00,60.65 L577.50,60.31 L578.00,59.98 L578.50,59.64 L579.00,59.30 L579.50,58.97 L580.00,58.63 L580.50,58.30 L581.00,57.97 L581.50,57.64 L582.00,57.31 L582.50,56.98 L583.00,56.65 L583.50,56.33 L584.00,56.00 L584.50,55.68 L585.00,55.35 L585.50,55.03 L586.00,54.71 L586.50,54.39 L587.00,54.07 L587.50,53.75 L588.00,53.44 L588.50,53.12 L589.00,52.81 L589.50,52.49 L590.00,52.18 L590.50,51.87 L591.00,51.56 L591.50,51.25 L592.00,50.94 L592.50,50.64 L593.00,50.33 L593.50,50.03 L594.00,49.72 L594.50,49.42 L595.00,49.12 L595.50,48.82 L596.00,48.52 L596.50,48.22 L597.00,47.92 L597.50,47.63 L598.00,47.33 L598.50,47.04 L599.00,46.75 L599.50,46.45 L600.00,46.16 L600.50,45.87 L601.00,45.59 L601.50,45.30 L602.00,45.01 L602.50,44.73 L603.00,44.44 L603.50,44.16 L604.00,43.88 L604.50,43.60 L605.00,43.32 L605.50,43.04 L606.00,42.76 L606.50,42.48 L607.00,42.21 L607.50,41.93 L608.00,41.66 L608.50,41.39 L609.00,41.12 L609.50,40.85 L610.00,40.58 L610.50,40.31 L611.00,40.04 L611.50,39.78 L612.00,39.51 L612.50,39.25 L613.00,38.99 L613.50,38.73 L614.00,38.47 L614.50,38.21 L615.00,37.95 L615.50,37.69 L616.00,37.44 L616.50,37.18 L617.00,36.93 L617.50,36.68 L618.00,36.43 L618.50,36.18 L619.00,35.93 L619.50,35.68 L620.00,35.43 L620.50,35.19 L621.00,34.94 L621.50,34.70 L622.00,34.46 L622.50,34.21 L623.00,33.97 L623.50,33.74 L624.00,33.50 L624.50,33.26 L625.00,33.02 L625.50,32.79 L626.00,32.56 L626.50,32.32 L627.00,32.09 L627.50,31.86 L628.00,31.63 L628.50,31.40 L629.00,31.16 L629.50,30.93 L630.00,30.69 L630.50,30.46 L631.00,30.22 L631.50,29.98 L632.00,29.75 L632.50,29.51 L633.00,29.28 L633.50,29.04 L634.00,28.81 L634.50,28.57 L635.00,28.34 L635.50,28.11 L636.00,27.88 L636.50,27.65 L637.00,27.42 L637.50,27.20 L638.00,26.97 L638.50,26.75 L639.00,26.53 L639.50,26.32 L640.00,26.10 L640.50,25.89 L641.00,25.69 L641.50,25.48 L642.00,25.28 L642.50,25.08 L643.00,24.89 L643.50,24.70 L644.00,24.51 L644.50,24.33 L645.00,24.15 L645.50,23.98 L646.00,23.81 L646.50,23.65 L647.00,23.49 L647.50,23.34 L648.00,23.19 L648.50,23.05 L649.00,22.91 L649.50,22.78 L650.00,22.65 L650.50,22.53 L651.00,22.42 L651.50,22.31 L652.00,22.21 L652.50,22.10 L653.00,21.99 L653.50,21.89 L654.00,21.78 L654.50,21.68 L655.00,21.57 L655.50,21.47 L656.00,21.36 L656.50,21.26 L657.00,21.16 L657.50,21.06 L658.00,20.96 L658.50,20.87 L659.00,20.77 L659.50,20.68 L660.00,20.59 L660.50,20.49 L661.00,20.40 L661.50,20.32 L662.00,20.23 L662.50,20.15 L663.00,20.07 L663.50,19.99 L664.00,19.91 L664.50,19.83 L665.00,19.76 L665.50,19.69 L666.00,19.62 L666.50,19.55 L667.00,19.49 L667.50,19.43 L668.00,19.37 L668.50,19.32 L669.00,19.27 L669.50,19.22 L670.00,19.17 L670.50,19.13 L671.00,19.09 L671.50,19.05 L672.00,19.02 L672.50,18.99 L673.00,18.96 L673.50,18.94 L674.00,18.92 L674.50,18.91 L674.80,18.90" fill="none" stroke="#f08a2c" stroke-width="1.1"/>
<circle cx="531.50" cy="111.50" r="1.55" fill="white" stroke="#f08a2c" stroke-width="0.8"/>
<circle cx="531.80" cy="110.20" r="1.55" fill="white" stroke="#f08a2c" stroke-width="0.8"/>
<circle cx="534.60" cy="104.00" r="1.55" fill="white" stroke="#f08a2c" stroke-width="0.8"/>
<circle cx="538.30" cy="99.40" r="1.55" fill="white" stroke="#f08a2c" stroke-width="0.8"/>
<circle cx="544.50" cy="91.00" r="1.55" fill="white" stroke="#f08a2c" stroke-width="0.8"/>
<circle cx="556.20" cy="77.20" r="1.55" fill="white" stroke="#f08a2c" stroke-width="0.8"/>
<circle cx="579.90" cy="58.70" r="1.55" fill="white" stroke="#f08a2c" stroke-width="0.8"/>
<circle cx="627.20" cy="32.00" r="1.55" fill="white" stroke="#f08a2c" stroke-width="0.8"/>
<circle cx="651.10" cy="22.40" r="1.55" fill="white" stroke="#f08a2c" stroke-width="0.8"/>
<circle cx="674.80" cy="18.90" r="1.55" fill="white" stroke="#f08a2c" stroke-width="0.8"/>
<path d="M531.50,111.50 L532.00,109.61 L532.50,108.31 L533.00,107.22 L533.50,106.28 L534.00,105.45 L534.50,104.66 L535.00,103.89 L535.50,103.19 L536.00,102.54 L536.50,101.92 L537.00,101.33 L537.50,100.75 L538.00,100.16 L538.50,99.56 L539.00,98.96 L539.50,98.36 L540.00,97.77 L540.50,97.19 L541.00,96.61 L541.50,96.03 L542.00,95.46 L542.50,94.89 L543.00,94.32 L543.50,93.75 L544.00,93.17 L544.50,92.60 L545.00,92.02 L545.50,91.43 L546.00,90.83 L546.50,90.23 L547.00,89.62 L547.50,89.01 L548.00,88.39 L548.50,87.77 L549.00,87.16 L549.50,86.55 L550.00,85.94 L550.50,85.34 L551.00,84.74 L551.50,84.15 L552.00,83.57 L552.50,83.00 L553.00,82.45 L553.50,81.91 L554.00,81.39 L554.50,80.88 L555.00,80.39 L555.50,79.92 L556.00,79.47 L556.50,79.05 L557.00,78.63 L557.50,78.21 L558.00,77.81 L558.50,77.41 L559.00,77.02 L559.50,76.63 L560.00,76.25 L560.50,75.88 L561.00,75.51 L561.50,75.15 L562.00,74.79 L562.50,74.43 L563.00,74.09 L563.50,73.74 L564.00,73.40 L564.50,73.07 L565.00,72.74 L565.50,72.41 L566.00,72.09 L566.50,71.77 L567.00,71.45 L567.50,71.14 L568.00,70.83 L568.50,70.53 L569.00,70.22 L569.50,69.92 L570.00,69.62 L570.50,69.32 L571.00,69.03 L571.50,68.74 L572.00,68.44 L572.50,68.15 L573.00,67.86 L573.50,67.58 L574.00,67.29 L574.50,67.00 L575.00,66.72 L575.50,66.43 L576.00,66.15 L576.50,65.86 L577.00,65.57 L577.50,65.29 L578.00,65.00 L578.50,64.71 L579.00,64.42 L579.50,64.13 L580.00,63.84 L580.50,63.55 L581.00,63.26 L581.50,62.97 L582.00,62.67 L582.50,62.38 L583.00,62.09 L583.50,61.79 L584.00,61.50 L584.50,61.21 L585.00,60.92 L585.50,60.62 L586.00,60.33 L586.50,60.04 L587.00,59.75 L587.50,59.46 L588.00,59.16 L588.50,58.87 L589.00,58.58 L589.50,58.29 L590.00,58.00 L590.50,57.71 L591.00,57.42 L591.50,57.13 L592.00,56.84 L592.50,56.56 L593.00,56.27 L593.50,55.98 L594.00,55.69 L594.50,55.41 L595.00,55.12 L595.50,54.84 L596.00,54.55 L596.50,54.27 L597.00,53.99 L597.50,53.71 L598.00,53.42 L598.50,53.14 L599.00,52.86 L599.50,52.59 L600.00,52.31 L600.50,52.03 L601.00,51.76 L601.50,51.48 L602.00,51.21 L602.50,50.94 L603.00,50.66 L603.50,50.39 L604.00,50.12 L604.50,49.86 L605.00,49.59 L605.50,49.32 L606.00,49.06 L606.50,48.80 L607.00,48.53 L607.50,48.27 L608.00,48.02 L608.50,47.76 L609.00,47.50 L609.50,47.25 L610.00,46.99 L610.50,46.74 L611.00,46.49 L611.50,46.24 L612.00,46.00 L612.50,45.75 L613.00,45.51 L613.50,45.27 L614.00,45.02 L614.50,44.79 L615.00,44.55 L615.50,44.31 L616.00,44.08 L616.50,43.85 L617.00,43.62 L617.50,43.39 L618.00,43.17 L618.50,42.94 L619.00,42.72 L619.50,42.50 L620.00,42.29 L620.50,42.07 L621.00,41.86 L621.50,41.65 L622.00,41.44 L622.50,41.23 L623.00,41.03 L623.50,40.82 L624.00,40.62 L624.50,40.43 L625.00,40.23 L625.50,40.04 L626.00,39.85 L626.50,39.66 L627.00,39.47 L627.50,39.29 L628.00,39.11 L628.50,38.93 L629.00,38.75 L629.50,38.58 L630.00,38.41 L630.50,38.23 L631.00,38.07 L631.50,37.90 L632.00,37.73 L632.50,37.57 L633.00,37.41 L633.50,37.25 L634.00,37.09 L634.50,36.93 L635.00,36.77 L635.50,36.62 L636.00,36.47 L636.50,36.31 L637.00,36.16 L637.50,36.02 L638.00,35.87 L638.50,35.72 L639.00,35.58 L639.50,35.43 L640.00,35.29 L640.50,35.15 L641.00,35.01 L641.50,34.87 L642.00,34.73 L642.50,34.59 L643.00,34.45 L643.50,34.31 L644.00,34.18 L644.50,34.04 L645.00,33.91 L645.50,33.77 L646.00,33.64 L646.50,33.51 L647.00,33.37 L647.50,33.24 L648.00,33.11 L648.50,32.98 L649.00,32.85 L649.50,32.72 L650.00,32.59 L650.50,32.46 L651.00,32.33 L651.50,32.20 L652.00,32.07 L652.50,31.94 L653.00,31.81 L653.50,31.68 L654.00,31.55 L654.50,31.43 L655.00,31.30 L655.50,31.17 L656.00,31.05 L656.50,30.92 L657.00,30.80 L657.50,30.68 L658.00,30.55 L658.50,30.43 L659.00,30.31 L659.50,30.19 L660.00,30.07 L660.50,29.95 L661.00,29.83 L661.50,29.71 L662.00,29.59 L662.50,29.47 L663.00,29.36 L663.50,29.24 L664.00,29.13 L664.50,29.01 L665.00,28.90 L665.50,28.78 L666.00,28.67 L666.50,28.56 L667.00,28.45 L667.50,28.34 L668.00,28.23 L668.50,28.12 L669.00,28.01 L669.50,27.90 L670.00,27.79 L670.50,27.69 L671.00,27.58 L671.50,27.48 L672.00,27.37 L672.50,27.27 L673.00,27.16 L673.50,27.06 L674.00,26.96 L674.50,26.86 L674.80,26.80" fill="none" stroke="#62a6f2" stroke-width="1.1"/>
<circle cx="531.50" cy="111.50" r="1.55" fill="white" stroke="#62a6f2" stroke-width="0.8"/>
<circle cx="531.80" cy="110.20" r="1.55" fill="white" stroke="#62a6f2" stroke-width="0.8"/>
<circle cx="534.60" cy="104.50" r="1.55" fill="white" stroke="#62a6f2" stroke-width="0.8"/>
<circle cx="538.30" cy="99.80" r="1.55" fill="white" stroke="#62a6f2" stroke-width="0.8"/>
<circle cx="544.50" cy="92.60" r="1.55" fill="white" stroke="#62a6f2" stroke-width="0.8"/>
<circle cx="556.20" cy="79.30" r="1.55" fill="white" stroke="#62a6f2" stroke-width="0.8"/>
<circle cx="579.90" cy="63.90" r="1.55" fill="white" stroke="#62a6f2" stroke-width="0.8"/>
<circle cx="627.20" cy="39.40" r="1.55" fill="white" stroke="#62a6f2" stroke-width="0.8"/>
<circle cx="651.10" cy="32.30" r="1.55" fill="white" stroke="#62a6f2" stroke-width="0.8"/>
<circle cx="674.80" cy="26.80" r="1.55" fill="white" stroke="#62a6f2" stroke-width="0.8"/>
<line x1="537.10" y1="24.10" x2="551.80" y2="24.10" stroke="#62a6f2" stroke-width="1.0"/>
<circle cx="544.45" cy="24.10" r="1.6" fill="#62a6f2" stroke="#62a6f2" stroke-width="0.5"/>
<text x="552.00" y="26.10" font-size="7.81" text-anchor="start" font-weight="normal" fill="#2a2a2a" color="#2a2a2a" textLength="31.65" lengthAdjust="spacingAndGlyphs">ΔFL-hIgG</text>
<line x1="537.10" y1="35.00" x2="551.80" y2="35.00" stroke="#f08a2c" stroke-width="1.0"/>
<circle cx="544.45" cy="35.00" r="1.6" fill="#f08a2c" stroke="#f08a2c" stroke-width="0.5"/>
<text x="553.80" y="37.00" font-size="7.81" text-anchor="start" font-weight="normal" fill="#2a2a2a" color="#2a2a2a" textLength="33.67" lengthAdjust="spacingAndGlyphs">ECD-hIgG</text>
<text x="620.00" y="22.00" font-size="9.36" text-anchor="start" font-weight="normal" fill="#555" color="#555" font-family='"Liberation Serif", serif' textLength="42.5" lengthAdjust="spacingAndGlyphs">Std_curve- II</text>
<text x="637.20" y="43.60" font-size="9.36" text-anchor="start" font-weight="normal" fill="#555" color="#555" font-family='"Liberation Serif", serif' textLength="42.3" lengthAdjust="spacingAndGlyphs">Std_curve- III</text>
<line x1="28.30" y1="177.90" x2="28.30" y2="233.90" stroke="#333" stroke-width="0.9"/>
<line x1="25.70" y1="233.40" x2="28.30" y2="233.40" stroke="#333" stroke-width="0.9"/>
<text x="24.90" y="234.80" font-size="4.91" text-anchor="end" font-weight="normal" fill="#333" color="#333" textLength="2.34" lengthAdjust="spacingAndGlyphs">0</text>
<line x1="25.70" y1="215.07" x2="28.30" y2="215.07" stroke="#333" stroke-width="0.9"/>
<text x="24.90" y="216.47" font-size="4.91" text-anchor="end" font-weight="normal" fill="#333" color="#333" textLength="4.67" lengthAdjust="spacingAndGlyphs">20</text>
<line x1="25.70" y1="196.73" x2="28.30" y2="196.73" stroke="#333" stroke-width="0.9"/>
<text x="24.90" y="198.13" font-size="4.91" text-anchor="end" font-weight="normal" fill="#333" color="#333" textLength="4.67" lengthAdjust="spacingAndGlyphs">40</text>
<line x1="25.70" y1="178.40" x2="28.30" y2="178.40" stroke="#333" stroke-width="0.9"/>
<text x="24.90" y="179.80" font-size="4.91" text-anchor="end" font-weight="normal" fill="#333" color="#333" textLength="4.67" lengthAdjust="spacingAndGlyphs">60</text>
<line x1="27.90" y1="233.40" x2="157.00" y2="233.40" stroke="#333" stroke-width="0.9"/>
<line x1="35.40" y1="233.40" x2="35.40" y2="235.70" stroke="#333" stroke-width="0.9"/>
<line x1="48.20" y1="233.40" x2="48.20" y2="235.70" stroke="#333" stroke-width="0.9"/>
<line x1="61.00" y1="233.40" x2="61.00" y2="235.70" stroke="#333" stroke-width="0.9"/>
<line x1="73.80" y1="233.40" x2="73.80" y2="235.70" stroke="#333" stroke-width="0.9"/>
<line x1="86.60" y1="233.40" x2="86.60" y2="235.70" stroke="#333" stroke-width="0.9"/>
<line x1="99.40" y1="233.40" x2="99.40" y2="235.70" stroke="#333" stroke-width="0.9"/>
<line x1="112.20" y1="233.40" x2="112.20" y2="235.70" stroke="#333" stroke-width="0.9"/>
<line x1="125.00" y1="233.40" x2="125.00" y2="235.70" stroke="#333" stroke-width="0.9"/>
<line x1="137.80" y1="233.40" x2="137.80" y2="235.70" stroke="#333" stroke-width="0.9"/>
<line x1="150.60" y1="233.40" x2="150.60" y2="235.70" stroke="#333" stroke-width="0.9"/>
<text x="32.80" y="182.20" font-size="8.06" text-anchor="start" font-weight="normal" fill="#f39a3e" color="#f39a3e" textLength="37.21" lengthAdjust="spacingAndGlyphs">ECD sPD-1</text>
<text x="16.90" y="204.60" font-size="6.0" text-anchor="middle" font-weight="normal" fill="#222" color="#222" transform="rotate(-90 16.9 204.6)" textLength="52.5" lengthAdjust="spacingAndGlyphs">ECD sPD-1 (ng/ml)</text>
<line x1="31.00" y1="232.48" x2="39.80" y2="232.48" stroke="#3a3a3a" stroke-width="0.7"/>
<circle cx="31.40" cy="232.28" r="1.3" fill="#f39a3e" stroke="#e07a10" stroke-width="0.4"/>
<circle cx="35.40" cy="232.28" r="1.3" fill="#f39a3e" stroke="#e07a10" stroke-width="0.4"/>
<circle cx="39.40" cy="232.28" r="1.3" fill="#f39a3e" stroke="#e07a10" stroke-width="0.4"/>
<line x1="43.80" y1="231.75" x2="52.60" y2="231.75" stroke="#3a3a3a" stroke-width="0.7"/>
<circle cx="44.20" cy="231.55" r="1.3" fill="#f39a3e" stroke="#e07a10" stroke-width="0.4"/>
<circle cx="48.20" cy="231.25" r="1.3" fill="#f39a3e" stroke="#e07a10" stroke-width="0.4"/>
<circle cx="52.20" cy="231.55" r="1.3" fill="#f39a3e" stroke="#e07a10" stroke-width="0.4"/>
<rect x="56.55" y="202.05" width="8.90" height="31.35" fill="white" stroke="#f39a3e" stroke-width="0.9"/>
<line x1="61.00" y1="200.22" x2="61.00" y2="203.88" stroke="#3a2a1a" stroke-width="0.8"/>
<line x1="59.20" y1="200.22" x2="62.80" y2="200.22" stroke="#3a2a1a" stroke-width="0.8"/>
<line x1="59.20" y1="203.88" x2="62.80" y2="203.88" stroke="#3a2a1a" stroke-width="0.8"/>
<circle cx="59.20" cy="201.50" r="1.0" fill="#f39a3e" stroke="#f39a3e" stroke-width="0.4"/>
<circle cx="61.00" cy="202.97" r="1.0" fill="#f39a3e" stroke="#f39a3e" stroke-width="0.4"/>
<circle cx="62.80" cy="201.68" r="1.0" fill="#f39a3e" stroke="#f39a3e" stroke-width="0.4"/>
<line x1="69.40" y1="232.03" x2="78.20" y2="232.03" stroke="#3a3a3a" stroke-width="0.7"/>
<circle cx="69.80" cy="231.83" r="1.3" fill="#f39a3e" stroke="#e07a10" stroke-width="0.4"/>
<circle cx="73.80" cy="231.53" r="1.3" fill="#f39a3e" stroke="#e07a10" stroke-width="0.4"/>
<circle cx="77.80" cy="231.83" r="1.3" fill="#f39a3e" stroke="#e07a10" stroke-width="0.4"/>
<rect x="82.15" y="215.71" width="8.90" height="17.69" fill="white" stroke="#f39a3e" stroke-width="0.9"/>
<line x1="86.60" y1="213.88" x2="86.60" y2="217.54" stroke="#3a2a1a" stroke-width="0.8"/>
<line x1="84.80" y1="213.88" x2="88.40" y2="213.88" stroke="#3a2a1a" stroke-width="0.8"/>
<line x1="84.80" y1="217.54" x2="88.40" y2="217.54" stroke="#3a2a1a" stroke-width="0.8"/>
<circle cx="84.80" cy="215.16" r="1.0" fill="#f39a3e" stroke="#f39a3e" stroke-width="0.4"/>
<circle cx="86.60" cy="216.62" r="1.0" fill="#f39a3e" stroke="#f39a3e" stroke-width="0.4"/>
<circle cx="88.40" cy="215.34" r="1.0" fill="#f39a3e" stroke="#f39a3e" stroke-width="0.4"/>
<line x1="95.00" y1="232.48" x2="103.80" y2="232.48" stroke="#3a3a3a" stroke-width="0.7"/>
<circle cx="95.40" cy="232.28" r="1.3" fill="#f39a3e" stroke="#e07a10" stroke-width="0.4"/>
<circle cx="99.40" cy="232.28" r="1.3" fill="#f39a3e" stroke="#e07a10" stroke-width="0.4"/>
<circle cx="103.40" cy="232.28" r="1.3" fill="#f39a3e" stroke="#e07a10" stroke-width="0.4"/>
<line x1="107.80" y1="232.48" x2="116.60" y2="232.48" stroke="#3a3a3a" stroke-width="0.7"/>
<circle cx="108.20" cy="232.28" r="1.3" fill="#f39a3e" stroke="#e07a10" stroke-width="0.4"/>
<circle cx="112.20" cy="232.28" r="1.3" fill="#f39a3e" stroke="#e07a10" stroke-width="0.4"/>
<circle cx="116.20" cy="232.28" r="1.3" fill="#f39a3e" stroke="#e07a10" stroke-width="0.4"/>
<rect x="120.55" y="191.42" width="8.90" height="41.98" fill="white" stroke="#f39a3e" stroke-width="0.9"/>
<line x1="125.00" y1="188.21" x2="125.00" y2="194.63" stroke="#3a2a1a" stroke-width="0.8"/>
<line x1="123.20" y1="188.21" x2="126.80" y2="188.21" stroke="#3a2a1a" stroke-width="0.8"/>
<line x1="123.20" y1="194.63" x2="126.80" y2="194.63" stroke="#3a2a1a" stroke-width="0.8"/>
<circle cx="123.20" cy="190.45" r="1.0" fill="#f39a3e" stroke="#f39a3e" stroke-width="0.4"/>
<circle cx="125.00" cy="193.02" r="1.0" fill="#f39a3e" stroke="#f39a3e" stroke-width="0.4"/>
<circle cx="126.80" cy="190.78" r="1.0" fill="#f39a3e" stroke="#f39a3e" stroke-width="0.4"/>
<line x1="133.40" y1="231.57" x2="142.20" y2="231.57" stroke="#3a3a3a" stroke-width="0.7"/>
<circle cx="133.80" cy="231.37" r="1.3" fill="#f39a3e" stroke="#e07a10" stroke-width="0.4"/>
<circle cx="137.80" cy="231.07" r="1.3" fill="#f39a3e" stroke="#e07a10" stroke-width="0.4"/>
<circle cx="141.80" cy="231.37" r="1.3" fill="#f39a3e" stroke="#e07a10" stroke-width="0.4"/>
<line x1="146.20" y1="232.21" x2="155.00" y2="232.21" stroke="#3a3a3a" stroke-width="0.7"/>
<circle cx="146.60" cy="232.01" r="1.3" fill="#f39a3e" stroke="#e07a10" stroke-width="0.4"/>
<circle cx="150.60" cy="231.71" r="1.3" fill="#f39a3e" stroke="#e07a10" stroke-width="0.4"/>
<circle cx="154.60" cy="232.01" r="1.3" fill="#f39a3e" stroke="#e07a10" stroke-width="0.4"/>
<text x="60.20" y="196.50" font-size="7.25" text-anchor="middle" font-weight="normal" fill="#e8283c" color="#e8283c" textLength="6.9" lengthAdjust="spacingAndGlyphs">#3</text>
<text x="85.80" y="211.60" font-size="7.25" text-anchor="middle" font-weight="normal" fill="#e8283c" color="#e8283c" textLength="6.9" lengthAdjust="spacingAndGlyphs">#5</text>
<text x="124.20" y="182.50" font-size="7.25" text-anchor="middle" font-weight="normal" fill="#e8283c" color="#e8283c" textLength="6.9" lengthAdjust="spacingAndGlyphs">#8</text>
<line x1="29.00" y1="243.60" x2="29.00" y2="299.60" stroke="#333" stroke-width="0.9"/>
<line x1="26.40" y1="299.10" x2="29.00" y2="299.10" stroke="#333" stroke-width="0.9"/>
<text x="25.60" y="300.50" font-size="4.91" text-anchor="end" font-weight="normal" fill="#333" color="#333" textLength="2.34" lengthAdjust="spacingAndGlyphs">0</text>
<line x1="26.40" y1="280.77" x2="29.00" y2="280.77" stroke="#333" stroke-width="0.9"/>
<text x="25.60" y="282.17" font-size="4.91" text-anchor="end" font-weight="normal" fill="#333" color="#333" textLength="4.67" lengthAdjust="spacingAndGlyphs">20</text>
<line x1="26.40" y1="262.43" x2="29.00" y2="262.43" stroke="#333" stroke-width="0.9"/>
<text x="25.60" y="263.83" font-size="4.91" text-anchor="end" font-weight="normal" fill="#333" color="#333" textLength="4.67" lengthAdjust="spacingAndGlyphs">40</text>
<line x1="26.40" y1="244.10" x2="29.00" y2="244.10" stroke="#333" stroke-width="0.9"/>
<text x="25.60" y="245.50" font-size="4.91" text-anchor="end" font-weight="normal" fill="#333" color="#333" textLength="4.67" lengthAdjust="spacingAndGlyphs">60</text>
<line x1="28.60" y1="299.10" x2="158.50" y2="299.10" stroke="#333" stroke-width="0.9"/>
<line x1="36.00" y1="299.10" x2="36.00" y2="301.40" stroke="#333" stroke-width="0.9"/>
<line x1="48.91" y1="299.10" x2="48.91" y2="301.40" stroke="#333" stroke-width="0.9"/>
<line x1="61.82" y1="299.10" x2="61.82" y2="301.40" stroke="#333" stroke-width="0.9"/>
<line x1="74.73" y1="299.10" x2="74.73" y2="301.40" stroke="#333" stroke-width="0.9"/>
<line x1="87.64" y1="299.10" x2="87.64" y2="301.40" stroke="#333" stroke-width="0.9"/>
<line x1="100.55" y1="299.10" x2="100.55" y2="301.40" stroke="#333" stroke-width="0.9"/>
<line x1="113.46" y1="299.10" x2="113.46" y2="301.40" stroke="#333" stroke-width="0.9"/>
<line x1="126.37" y1="299.10" x2="126.37" y2="301.40" stroke="#333" stroke-width="0.9"/>
<line x1="139.28" y1="299.10" x2="139.28" y2="301.40" stroke="#333" stroke-width="0.9"/>
<line x1="152.19" y1="299.10" x2="152.19" y2="301.40" stroke="#333" stroke-width="0.9"/>
<text x="32.80" y="250.90" font-size="8.06" text-anchor="start" font-weight="normal" fill="#5aa2f2" color="#5aa2f2" textLength="30.14" lengthAdjust="spacingAndGlyphs">FL sPD-1</text>
<text x="16.60" y="270.20" font-size="6.0" text-anchor="middle" font-weight="normal" fill="#222" color="#222" transform="rotate(-90 16.6 270.2)" textLength="47" lengthAdjust="spacingAndGlyphs">FL sPD-1 (ng/ml)</text>
<line x1="31.60" y1="298.55" x2="40.40" y2="298.55" stroke="#3a3a3a" stroke-width="0.7"/>
<circle cx="32.00" cy="298.35" r="1.3" fill="#5aa2f2" stroke="#3a86d8" stroke-width="0.4"/>
<circle cx="36.00" cy="298.35" r="1.3" fill="#5aa2f2" stroke="#3a86d8" stroke-width="0.4"/>
<circle cx="40.00" cy="298.35" r="1.3" fill="#5aa2f2" stroke="#3a86d8" stroke-width="0.4"/>
<line x1="44.51" y1="297.73" x2="53.31" y2="297.73" stroke="#3a3a3a" stroke-width="0.7"/>
<circle cx="44.91" cy="297.53" r="1.3" fill="#5aa2f2" stroke="#3a86d8" stroke-width="0.4"/>
<circle cx="48.91" cy="297.23" r="1.3" fill="#5aa2f2" stroke="#3a86d8" stroke-width="0.4"/>
<circle cx="52.91" cy="297.53" r="1.3" fill="#5aa2f2" stroke="#3a86d8" stroke-width="0.4"/>
<rect x="57.37" y="282.14" width="8.90" height="16.96" fill="white" stroke="#5aa2f2" stroke-width="0.9"/>
<line x1="61.82" y1="280.12" x2="61.82" y2="284.16" stroke="#1a3a6a" stroke-width="0.8"/>
<line x1="60.02" y1="280.12" x2="63.62" y2="280.12" stroke="#1a3a6a" stroke-width="0.8"/>
<line x1="60.02" y1="284.16" x2="63.62" y2="284.16" stroke="#1a3a6a" stroke-width="0.8"/>
<circle cx="60.02" cy="281.54" r="1.0" fill="#5aa2f2" stroke="#5aa2f2" stroke-width="0.4"/>
<circle cx="61.82" cy="283.15" r="1.0" fill="#5aa2f2" stroke="#5aa2f2" stroke-width="0.4"/>
<circle cx="63.62" cy="281.74" r="1.0" fill="#5aa2f2" stroke="#5aa2f2" stroke-width="0.4"/>
<line x1="70.33" y1="298.37" x2="79.13" y2="298.37" stroke="#3a3a3a" stroke-width="0.7"/>
<circle cx="70.73" cy="298.17" r="1.3" fill="#5aa2f2" stroke="#3a86d8" stroke-width="0.4"/>
<circle cx="74.73" cy="298.17" r="1.3" fill="#5aa2f2" stroke="#3a86d8" stroke-width="0.4"/>
<circle cx="78.73" cy="298.17" r="1.3" fill="#5aa2f2" stroke="#3a86d8" stroke-width="0.4"/>
<rect x="83.19" y="273.53" width="8.90" height="25.57" fill="white" stroke="#5aa2f2" stroke-width="0.9"/>
<line x1="87.64" y1="270.96" x2="87.64" y2="276.09" stroke="#1a3a6a" stroke-width="0.8"/>
<line x1="85.84" y1="270.96" x2="89.44" y2="270.96" stroke="#1a3a6a" stroke-width="0.8"/>
<line x1="85.84" y1="276.09" x2="89.44" y2="276.09" stroke="#1a3a6a" stroke-width="0.8"/>
<circle cx="85.84" cy="272.76" r="1.0" fill="#5aa2f2" stroke="#5aa2f2" stroke-width="0.4"/>
<circle cx="87.64" cy="274.81" r="1.0" fill="#5aa2f2" stroke="#5aa2f2" stroke-width="0.4"/>
<circle cx="89.44" cy="273.01" r="1.0" fill="#5aa2f2" stroke="#5aa2f2" stroke-width="0.4"/>
<line x1="96.15" y1="298.37" x2="104.95" y2="298.37" stroke="#3a3a3a" stroke-width="0.7"/>
<circle cx="96.55" cy="298.17" r="1.3" fill="#5aa2f2" stroke="#3a86d8" stroke-width="0.4"/>
<circle cx="100.55" cy="298.17" r="1.3" fill="#5aa2f2" stroke="#3a86d8" stroke-width="0.4"/>
<circle cx="104.55" cy="298.17" r="1.3" fill="#5aa2f2" stroke="#3a86d8" stroke-width="0.4"/>
<rect x="109.01" y="256.57" width="8.90" height="42.53" fill="white" stroke="#5aa2f2" stroke-width="0.9"/>
<line x1="113.46" y1="251.07" x2="113.46" y2="262.07" stroke="#1a3a6a" stroke-width="0.8"/>
<line x1="111.66" y1="251.07" x2="115.26" y2="251.07" stroke="#1a3a6a" stroke-width="0.8"/>
<line x1="111.66" y1="262.07" x2="115.26" y2="262.07" stroke="#1a3a6a" stroke-width="0.8"/>
<circle cx="111.66" cy="254.92" r="1.0" fill="#5aa2f2" stroke="#5aa2f2" stroke-width="0.4"/>
<circle cx="113.46" cy="259.32" r="1.0" fill="#5aa2f2" stroke="#5aa2f2" stroke-width="0.4"/>
<circle cx="115.26" cy="255.47" r="1.0" fill="#5aa2f2" stroke="#5aa2f2" stroke-width="0.4"/>
<line x1="121.97" y1="298.64" x2="130.77" y2="298.64" stroke="#3a3a3a" stroke-width="0.7"/>
<circle cx="122.37" cy="298.44" r="1.3" fill="#5aa2f2" stroke="#3a86d8" stroke-width="0.4"/>
<circle cx="126.37" cy="298.44" r="1.3" fill="#5aa2f2" stroke="#3a86d8" stroke-width="0.4"/>
<circle cx="130.37" cy="298.44" r="1.3" fill="#5aa2f2" stroke="#3a86d8" stroke-width="0.4"/>
<line x1="134.88" y1="297.73" x2="143.68" y2="297.73" stroke="#3a3a3a" stroke-width="0.7"/>
<circle cx="135.28" cy="297.53" r="1.3" fill="#5aa2f2" stroke="#3a86d8" stroke-width="0.4"/>
<circle cx="139.28" cy="297.23" r="1.3" fill="#5aa2f2" stroke="#3a86d8" stroke-width="0.4"/>
<circle cx="143.28" cy="297.53" r="1.3" fill="#5aa2f2" stroke="#3a86d8" stroke-width="0.4"/>
<rect x="147.74" y="263.81" width="8.90" height="35.29" fill="white" stroke="#5aa2f2" stroke-width="0.9"/>
<line x1="152.19" y1="260.51" x2="152.19" y2="267.11" stroke="#1a3a6a" stroke-width="0.8"/>
<line x1="150.39" y1="260.51" x2="153.99" y2="260.51" stroke="#1a3a6a" stroke-width="0.8"/>
<line x1="150.39" y1="267.11" x2="153.99" y2="267.11" stroke="#1a3a6a" stroke-width="0.8"/>
<circle cx="150.39" cy="262.82" r="1.0" fill="#5aa2f2" stroke="#5aa2f2" stroke-width="0.4"/>
<circle cx="152.19" cy="265.46" r="1.0" fill="#5aa2f2" stroke="#5aa2f2" stroke-width="0.4"/>
<circle cx="153.99" cy="263.15" r="1.0" fill="#5aa2f2" stroke="#5aa2f2" stroke-width="0.4"/>
<text x="62.72" y="275.80" font-size="7.25" text-anchor="middle" font-weight="normal" fill="#e8283c" color="#e8283c" textLength="6.9" lengthAdjust="spacingAndGlyphs">#3</text>
<text x="88.54" y="267.00" font-size="7.25" text-anchor="middle" font-weight="normal" fill="#e8283c" color="#e8283c" textLength="6.9" lengthAdjust="spacingAndGlyphs">#5</text>
<text x="114.36" y="250.80" font-size="7.25" text-anchor="middle" font-weight="normal" fill="#e8283c" color="#e8283c" textLength="6.9" lengthAdjust="spacingAndGlyphs">#7</text>
<text x="153.09" y="258.40" font-size="7.25" text-anchor="middle" font-weight="normal" fill="#e8283c" color="#e8283c" textLength="10.34" lengthAdjust="spacingAndGlyphs">#10</text>
<text x="6.40" y="308.10" font-size="8.54" text-anchor="start" font-weight="normal" fill="#1a1a1a" color="#1a1a1a" textLength="22.73" lengthAdjust="spacingAndGlyphs">Patient</text>
<text x="35.60" y="308.10" font-size="6.26" text-anchor="middle" font-weight="normal" fill="#1a1a1a" color="#1a1a1a" textLength="6.45" lengthAdjust="spacingAndGlyphs">#1</text>
<text x="48.83" y="308.10" font-size="6.26" text-anchor="middle" font-weight="normal" fill="#1a1a1a" color="#1a1a1a" textLength="6.45" lengthAdjust="spacingAndGlyphs">#2</text>
<text x="62.06" y="308.10" font-size="6.26" text-anchor="middle" font-weight="normal" fill="#1a1a1a" color="#1a1a1a" textLength="6.45" lengthAdjust="spacingAndGlyphs">#3</text>
<text x="75.29" y="308.10" font-size="6.26" text-anchor="middle" font-weight="normal" fill="#1a1a1a" color="#1a1a1a" textLength="6.45" lengthAdjust="spacingAndGlyphs">#4</text>
<text x="88.52" y="308.10" font-size="6.26" text-anchor="middle" font-weight="normal" fill="#1a1a1a" color="#1a1a1a" textLength="6.45" lengthAdjust="spacingAndGlyphs">#5</text>
<text x="101.75" y="308.10" font-size="6.26" text-anchor="middle" font-weight="normal" fill="#1a1a1a" color="#1a1a1a" textLength="6.45" lengthAdjust="spacingAndGlyphs">#6</text>
<text x="114.98" y="308.10" font-size="6.26" text-anchor="middle" font-weight="normal" fill="#1a1a1a" color="#1a1a1a" textLength="6.45" lengthAdjust="spacingAndGlyphs">#7</text>
<text x="128.21" y="308.10" font-size="6.26" text-anchor="middle" font-weight="normal" fill="#1a1a1a" color="#1a1a1a" textLength="6.45" lengthAdjust="spacingAndGlyphs">#8</text>
<text x="141.44" y="308.10" font-size="6.26" text-anchor="middle" font-weight="normal" fill="#1a1a1a" color="#1a1a1a" textLength="6.45" lengthAdjust="spacingAndGlyphs">#9</text>
<text x="154.67" y="308.10" font-size="6.26" text-anchor="middle" font-weight="normal" fill="#1a1a1a" color="#1a1a1a" textLength="9.68" lengthAdjust="spacingAndGlyphs">#10</text>
<defs>
<radialGradient id="gBlue" cx="50%" cy="50%" r="50%"><stop offset="0" stop-color="#1d5f9a"/><stop offset="0.3" stop-color="#2b8ccc"/><stop offset="0.75" stop-color="#5ab2e2"/><stop offset="1" stop-color="#b0dcf2" stop-opacity="0.5"/></radialGradient>
<radialGradient id="gGreen" cx="50%" cy="50%" r="50%"><stop offset="0" stop-color="#2f8a1c"/><stop offset="0.35" stop-color="#4bb02a"/><stop offset="0.8" stop-color="#64c63a"/><stop offset="1" stop-color="#a8e090" stop-opacity="0.5"/></radialGradient>
<radialGradient id="gGray" cx="50%" cy="50%" r="50%"><stop offset="0" stop-color="#6e6e6e"/><stop offset="0.3" stop-color="#8e8e8e"/><stop offset="0.75" stop-color="#b4b4b4"/><stop offset="1" stop-color="#dddddd" stop-opacity="0.5"/></radialGradient>
<radialGradient id="gPurple" cx="50%" cy="50%" r="50%"><stop offset="0" stop-color="#7a4aa0"/><stop offset="0.5" stop-color="#9a6ac0"/><stop offset="1" stop-color="#c0a0d8" stop-opacity="0.7"/></radialGradient>
<radialGradient id="gPeach" cx="50%" cy="50%" r="50%"><stop offset="0" stop-color="#e8b070"/><stop offset="0.5" stop-color="#f2c898"/><stop offset="1" stop-color="#f8dcc0" stop-opacity="0.7"/></radialGradient>
<radialGradient id="gLight" cx="50%" cy="50%" r="50%"><stop offset="0" stop-color="#d0b080"/><stop offset="0.5" stop-color="#f0dcb8"/><stop offset="1" stop-color="#f8ecd8" stop-opacity="0.7"/></radialGradient>
<radialGradient id="gOlive" cx="50%" cy="50%" r="50%"><stop offset="0" stop-color="#9ab050"/><stop offset="0.5" stop-color="#c0d090"/><stop offset="1" stop-color="#dce4c0" stop-opacity="0.7"/></radialGradient>
<radialGradient id="gHyb" cx="50%" cy="50%" r="50%"><stop offset="0" stop-color="#4a4a7a"/><stop offset="0.3" stop-color="#6a6a90"/><stop offset="0.75" stop-color="#a4a4b8"/><stop offset="1" stop-color="#d4d4dc" stop-opacity="0.5"/></radialGradient>
<radialGradient id="gOrange" cx="50%" cy="50%" r="50%"><stop offset="0" stop-color="#e08a20"/><stop offset="0.35" stop-color="#eca040"/><stop offset="0.8" stop-color="#f4c068"/><stop offset="1" stop-color="#fae0b0" stop-opacity="0.5"/></radialGradient>
<linearGradient id="gMouse" x1="0" y1="0" x2="0" y2="1"><stop offset="0" stop-color="#f0ece8"/><stop offset="0.6" stop-color="#e6e1dc"/><stop offset="1" stop-color="#cdc6be"/></linearGradient>
</defs>
<text x="218.30" y="193.80" font-size="7.02" text-anchor="start" font-weight="normal" fill="#2a2a2a" color="#2a2a2a" textLength="42.2" lengthAdjust="spacingAndGlyphs">PD-1 ICD-mIgG</text>
<line x1="236.20" y1="199.30" x2="233.50" y2="206.10" stroke="#1f4f8a" stroke-width="0.9"/>
<line x1="237.40" y1="199.30" x2="237.40" y2="206.30" stroke="#1f4f8a" stroke-width="0.9"/>
<line x1="238.00" y1="199.20" x2="244.90" y2="204.20" stroke="#1f4f8a" stroke-width="0.9"/>
<line x1="235.90" y1="208.70" x2="243.00" y2="207.40" stroke="#1f4f8a" stroke-width="0.9"/>
<circle cx="234.10" cy="203.40" r="1.15" fill="#4aa64a" stroke="none" stroke-width="1"/>
<circle cx="237.40" cy="201.80" r="1.15" fill="#4aa64a" stroke="none" stroke-width="1"/>
<circle cx="243.00" cy="202.40" r="1.15" fill="#4aa64a" stroke="none" stroke-width="1"/>
<circle cx="240.10" cy="207.90" r="1.15" fill="#4aa64a" stroke="none" stroke-width="1"/>
<circle cx="237.20" cy="198.70" r="1.1" fill="#2a88d0" stroke="none" stroke-width="1"/>
<circle cx="233.50" cy="206.10" r="1.1" fill="#2a88d0" stroke="none" stroke-width="1"/>
<circle cx="244.90" cy="204.20" r="1.1" fill="#2a88d0" stroke="none" stroke-width="1"/>
<circle cx="243.00" cy="207.40" r="1.1" fill="#2a88d0" stroke="none" stroke-width="1"/>
<line x1="239.10" y1="211.00" x2="239.10" y2="219.60" stroke="#555" stroke-width="0.6"/>
<path d="M239.10,221.80 L237.80,219.20 L240.40,219.20 Z" fill="#555" stroke="none" stroke-width="1"/>
<text x="194.60" y="228.60" font-size="7.02" text-anchor="start" font-weight="normal" fill="#2a2a2a" color="#2a2a2a" textLength="24.01" lengthAdjust="spacingAndGlyphs">PD-1 KO</text>
<text x="194.60" y="235.70" font-size="7.02" text-anchor="start" font-weight="normal" fill="#2a2a2a" color="#2a2a2a" textLength="18.01" lengthAdjust="spacingAndGlyphs">mouse</text>
<path d="M252.0,229.8 C256.0,229.6 260.6,230.6 261.4,233.4 C262.0,236.4 255.0,237.6 246.2,239.1" fill="none" stroke="#e8a49c" stroke-width="0.9"/>
<path d="M223.9,228.9 C225.5,226.5 228.5,225.0 231.0,224.9 C234.5,224.2 237.5,224.4 240.0,224.6 C244.5,225.0 249.0,226.5 252.0,229.4 C252.8,230.6 251.5,232.0 249.0,232.6 C245.0,233.4 240.0,233.4 235.0,233.2 C231.5,233.0 228.8,232.2 226.8,231.2 C225.2,230.5 224.2,229.8 223.9,228.9 Z" fill="url(#gMouse)" stroke="#c8bfb6" stroke-width="0.45"/>
<ellipse cx="233.3" cy="225.8" rx="1.5" ry="1.7" fill="#f0c0b8" stroke="#e0a8a0" stroke-width="0.3"/>
<circle cx="228.10" cy="227.50" r="0.5" fill="#e07a7a" stroke="none" stroke-width="1"/>
<circle cx="224.20" cy="228.90" r="0.45" fill="#eab0a8" stroke="none" stroke-width="1"/>
<path d="M228.3,233.4 C229.5,234.6 231.5,234.8 233.0,234.4" fill="none" stroke="#e8a8a0" stroke-width="0.8"/>
<path d="M244.8,233.0 C245.8,234.8 247.8,235.2 249.6,234.6" fill="none" stroke="#e8a8a0" stroke-width="0.8"/>
<line x1="239.10" y1="236.20" x2="239.10" y2="245.60" stroke="#555" stroke-width="0.6"/>
<path d="M239.10,247.80 L237.80,245.20 L240.40,245.20 Z" fill="#555" stroke="none" stroke-width="1"/>
<text x="192.20" y="256.30" font-size="7.08" text-anchor="start" font-weight="normal" fill="#2a2a2a" color="#2a2a2a" textLength="32.9" lengthAdjust="spacingAndGlyphs">Splenocytes</text>
<circle cx="227.90" cy="257.60" r="4.5" fill="url(#gPeach)" stroke="none" stroke-width="1"/>
<circle cx="245.40" cy="254.40" r="4.6" fill="url(#gPeach)" stroke="none" stroke-width="1"/>
<circle cx="233.20" cy="250.90" r="4.3" fill="url(#gPurple)" stroke="none" stroke-width="1"/>
<circle cx="239.90" cy="257.30" r="4.3" fill="url(#gLight)" stroke="none" stroke-width="1"/>
<circle cx="233.70" cy="256.40" r="4.7" fill="url(#gGray)" stroke="none" stroke-width="1"/>
<circle cx="228.80" cy="262.90" r="4.7" fill="url(#gGray)" stroke="none" stroke-width="1"/>
<circle cx="235.60" cy="263.40" r="3.6" fill="url(#gOlive)" stroke="none" stroke-width="1"/>
<circle cx="246.60" cy="261.10" r="4.7" fill="url(#gBlue)" stroke="none" stroke-width="1"/>
<circle cx="242.50" cy="262.90" r="4.6" fill="url(#gBlue)" stroke="none" stroke-width="1"/>
<text x="262.80" y="247.40" font-size="7.14" text-anchor="start" font-weight="normal" fill="#2a2a2a" color="#2a2a2a" textLength="16.2" lengthAdjust="spacingAndGlyphs">SP2/0</text>
<circle cx="267.20" cy="252.70" r="4.3" fill="url(#gGreen)" stroke="none" stroke-width="1"/>
<circle cx="276.70" cy="252.70" r="4.3" fill="url(#gGreen)" stroke="none" stroke-width="1"/>
<circle cx="271.10" cy="261.50" r="4.3" fill="url(#gGreen)" stroke="none" stroke-width="1"/>
<line x1="241.10" y1="266.60" x2="248.77" y2="278.23" stroke="#444" stroke-width="0.6"/>
<path d="M250.20,280.40 L247.68,278.95 L249.85,277.51 Z" fill="#444" stroke="none" stroke-width="1"/>
<line x1="262.00" y1="266.20" x2="255.54" y2="278.11" stroke="#444" stroke-width="0.6"/>
<path d="M254.30,280.40 L254.40,277.49 L256.68,278.73 Z" fill="#444" stroke="none" stroke-width="1"/>
<text x="194.60" y="288.40" font-size="7.08" text-anchor="start" font-weight="normal" fill="#2a2a2a" color="#2a2a2a" textLength="29.3" lengthAdjust="spacingAndGlyphs">Hybridoma</text>
<circle cx="235.00" cy="286.70" r="4.5" fill="url(#gHyb)" stroke="none" stroke-width="1"/>
<circle cx="251.50" cy="286.70" r="4.7" fill="url(#gBlue)" stroke="none" stroke-width="1"/>
<circle cx="267.90" cy="286.40" r="4.6" fill="url(#gOrange)" stroke="none" stroke-width="1"/>
<line x1="252.20" y1="291.20" x2="252.20" y2="295.20" stroke="#e83040" stroke-width="0.6"/>
<text x="244.40" y="303.00" font-size="7.55" text-anchor="start" font-weight="bold" fill="#2a2222" color="#2a2222" textLength="18.8" lengthAdjust="spacingAndGlyphs">CH30</text>
<text x="318.50" y="180.80" font-size="7.2" text-anchor="start" font-weight="bold" fill="#2a2020" color="#2a2020" textLength="18.5" lengthAdjust="spacingAndGlyphs">CH30</text>
<text x="315.50" y="191.60" font-size="7.2" text-anchor="start" font-weight="normal" fill="#2a2a2a" color="#2a2a2a" textLength="30" lengthAdjust="spacingAndGlyphs">p&lt;0.0001</text>
<line x1="320.10" y1="194.40" x2="336.40" y2="194.40" stroke="#555" stroke-width="0.7"/>
<line x1="310.60" y1="194.60" x2="310.60" y2="274.70" stroke="#444" stroke-width="0.8"/>
<line x1="308.00" y1="274.30" x2="310.60" y2="274.30" stroke="#444" stroke-width="0.8"/>
<text x="307.10" y="276.00" font-size="5.73" text-anchor="end" font-weight="normal" fill="#333" color="#333" textLength="6.81" lengthAdjust="spacingAndGlyphs">0.0</text>
<line x1="308.00" y1="254.50" x2="310.60" y2="254.50" stroke="#444" stroke-width="0.8"/>
<text x="307.10" y="256.20" font-size="5.73" text-anchor="end" font-weight="normal" fill="#333" color="#333" textLength="6.81" lengthAdjust="spacingAndGlyphs">0.5</text>
<line x1="308.00" y1="234.70" x2="310.60" y2="234.70" stroke="#444" stroke-width="0.8"/>
<text x="307.10" y="236.40" font-size="5.73" text-anchor="end" font-weight="normal" fill="#333" color="#333" textLength="6.81" lengthAdjust="spacingAndGlyphs">1.0</text>
<line x1="308.00" y1="214.90" x2="310.60" y2="214.90" stroke="#444" stroke-width="0.8"/>
<text x="307.10" y="216.60" font-size="5.73" text-anchor="end" font-weight="normal" fill="#333" color="#333" textLength="6.81" lengthAdjust="spacingAndGlyphs">1.5</text>
<line x1="308.00" y1="195.10" x2="310.60" y2="195.10" stroke="#444" stroke-width="0.8"/>
<text x="307.10" y="196.80" font-size="5.73" text-anchor="end" font-weight="normal" fill="#333" color="#333" textLength="6.81" lengthAdjust="spacingAndGlyphs">2.0</text>
<line x1="310.30" y1="274.30" x2="364.00" y2="274.30" stroke="#444" stroke-width="0.8"/>
<line x1="318.30" y1="274.30" x2="318.30" y2="276.60" stroke="#444" stroke-width="0.8"/>
<line x1="336.80" y1="274.30" x2="336.80" y2="276.60" stroke="#444" stroke-width="0.8"/>
<line x1="355.20" y1="274.30" x2="355.20" y2="276.60" stroke="#444" stroke-width="0.8"/>
<rect x="331.30" y="198.40" width="11.00" height="75.90" fill="white" stroke="#333" stroke-width="0.8"/>
<rect x="331.10" y="197.80" width="3.00" height="3.00" fill="#111" stroke="none" stroke-width="1"/>
<rect x="335.10" y="195.90" width="3.00" height="3.00" fill="#111" stroke="none" stroke-width="1"/>
<rect x="339.50" y="196.90" width="3.00" height="3.00" fill="#111" stroke="none" stroke-width="1"/>
<circle cx="314.20" cy="272.60" r="1.5" fill="#111" stroke="none" stroke-width="1"/>
<circle cx="318.30" cy="272.60" r="1.5" fill="#111" stroke="none" stroke-width="1"/>
<circle cx="322.40" cy="272.60" r="1.5" fill="#111" stroke="none" stroke-width="1"/>
<path d="M349.10,274.00 L352.50,274.00 L350.80,271.00 Z" fill="#111" stroke="none" stroke-width="1"/>
<path d="M353.50,274.00 L356.90,274.00 L355.20,271.00 Z" fill="#111" stroke="none" stroke-width="1"/>
<path d="M357.90,274.00 L361.30,274.00 L359.60,271.00 Z" fill="#111" stroke="none" stroke-width="1"/>
<text x="298.00" y="236.20" font-size="6.96" text-anchor="middle" font-weight="normal" fill="#222" color="#222" transform="rotate(-90 298.0 236.2)" textLength="27.12" lengthAdjust="spacingAndGlyphs">OD450nm</text>
<text x="320.90" y="281.40" font-size="7.02" text-anchor="end" font-weight="normal" fill="#222" color="#222" transform="rotate(-45 320.90000000000003 281.40000000000003)" textLength="32.01" lengthAdjust="spacingAndGlyphs">CD80-mIgG</text>
<text x="339.40" y="281.40" font-size="7.02" text-anchor="end" font-weight="normal" fill="#222" color="#222" transform="rotate(-45 339.40000000000003 281.40000000000003)" textLength="27.0" lengthAdjust="spacingAndGlyphs">ICD-mIgG</text>
<text x="357.80" y="281.40" font-size="7.02" text-anchor="end" font-weight="normal" fill="#222" color="#222" transform="rotate(-45 357.8 281.40000000000003)" textLength="29.34" lengthAdjust="spacingAndGlyphs">ECD-mIgG</text>
<line x1="416.30" y1="283.50" x2="416.30" y2="327.80" stroke="#444" stroke-width="0.7"/>
<line x1="414.50" y1="327.40" x2="416.30" y2="327.40" stroke="#444" stroke-width="0.6"/>
<text x="414.00" y="328.50" font-size="3.86" text-anchor="end" font-weight="normal" fill="#444" color="#444" textLength="1.84" lengthAdjust="spacingAndGlyphs">0</text>
<line x1="414.50" y1="316.52" x2="416.30" y2="316.52" stroke="#444" stroke-width="0.6"/>
<text x="414.00" y="317.62" font-size="3.86" text-anchor="end" font-weight="normal" fill="#444" color="#444" textLength="3.67" lengthAdjust="spacingAndGlyphs">10</text>
<line x1="414.50" y1="305.65" x2="416.30" y2="305.65" stroke="#444" stroke-width="0.6"/>
<text x="414.00" y="306.75" font-size="3.86" text-anchor="end" font-weight="normal" fill="#444" color="#444" textLength="3.67" lengthAdjust="spacingAndGlyphs">20</text>
<line x1="414.50" y1="294.77" x2="416.30" y2="294.77" stroke="#444" stroke-width="0.6"/>
<text x="414.00" y="295.88" font-size="3.86" text-anchor="end" font-weight="normal" fill="#444" color="#444" textLength="3.67" lengthAdjust="spacingAndGlyphs">30</text>
<line x1="414.50" y1="283.90" x2="416.30" y2="283.90" stroke="#444" stroke-width="0.6"/>
<text x="414.00" y="285.00" font-size="3.86" text-anchor="end" font-weight="normal" fill="#444" color="#444" textLength="3.67" lengthAdjust="spacingAndGlyphs">40</text>
<line x1="416.00" y1="327.40" x2="482.80" y2="327.40" stroke="#444" stroke-width="0.7"/>
<line x1="419.40" y1="327.40" x2="419.40" y2="329.00" stroke="#444" stroke-width="0.6"/>
<text x="419.40" y="333.70" font-size="4.21" text-anchor="middle" font-weight="normal" fill="#333" color="#333" textLength="2.0" lengthAdjust="spacingAndGlyphs">3</text>
<line x1="431.78" y1="327.40" x2="431.78" y2="329.00" stroke="#444" stroke-width="0.6"/>
<text x="431.78" y="333.70" font-size="4.21" text-anchor="middle" font-weight="normal" fill="#333" color="#333" textLength="2.0" lengthAdjust="spacingAndGlyphs">7</text>
<line x1="444.16" y1="327.40" x2="444.16" y2="329.00" stroke="#444" stroke-width="0.6"/>
<text x="444.16" y="333.70" font-size="4.21" text-anchor="middle" font-weight="normal" fill="#333" color="#333" textLength="4.0" lengthAdjust="spacingAndGlyphs">10</text>
<line x1="456.54" y1="327.40" x2="456.54" y2="329.00" stroke="#444" stroke-width="0.6"/>
<text x="456.54" y="333.70" font-size="4.21" text-anchor="middle" font-weight="normal" fill="#333" color="#333" textLength="4.0" lengthAdjust="spacingAndGlyphs">14</text>
<line x1="468.92" y1="327.40" x2="468.92" y2="329.00" stroke="#444" stroke-width="0.6"/>
<text x="468.92" y="333.70" font-size="4.21" text-anchor="middle" font-weight="normal" fill="#333" color="#333" textLength="4.0" lengthAdjust="spacingAndGlyphs">17</text>
<line x1="481.30" y1="327.40" x2="481.30" y2="329.00" stroke="#444" stroke-width="0.6"/>
<text x="481.30" y="333.70" font-size="4.21" text-anchor="middle" font-weight="normal" fill="#333" color="#333" textLength="4.0" lengthAdjust="spacingAndGlyphs">21</text>
<text x="450.95" y="339.00" font-size="5.5" text-anchor="middle" font-weight="normal" fill="#222" color="#222" textLength="62.39999999999998" lengthAdjust="spacingAndGlyphs">Days after tumor implantation</text>
<text x="408.70" y="304.85" font-size="4.3" text-anchor="middle" font-weight="normal" fill="#222" color="#222" transform="rotate(-90 408.7 304.84999999999997)" textLength="27.2" lengthAdjust="spacingAndGlyphs">sPD-1 (ng/ml)</text>
<text x="420.70" y="285.90" font-size="6.79" text-anchor="start" font-weight="normal" fill="#e8283c" color="#e8283c" textLength="6.45" lengthAdjust="spacingAndGlyphs">#1</text>
<polyline points="419.40,327.40 431.78,325.77 444.16,321.96 456.54,325.22 468.92,326.31 481.30,327.40" fill="none" stroke="#78b4f2" stroke-width="0.8" stroke-linejoin="round"/>
<circle cx="419.40" cy="327.40" r="0.9" fill="#78b4f2" stroke="none" stroke-width="1"/>
<circle cx="431.78" cy="325.77" r="0.9" fill="#78b4f2" stroke="none" stroke-width="1"/>
<line x1="431.78" y1="324.68" x2="431.78" y2="326.86" stroke="#78b4f2" stroke-width="0.6"/>
<line x1="430.78" y1="324.68" x2="432.78" y2="324.68" stroke="#78b4f2" stroke-width="0.6"/>
<line x1="430.78" y1="326.86" x2="432.78" y2="326.86" stroke="#78b4f2" stroke-width="0.6"/>
<circle cx="444.16" cy="321.96" r="0.9" fill="#78b4f2" stroke="none" stroke-width="1"/>
<line x1="444.16" y1="320.88" x2="444.16" y2="323.05" stroke="#78b4f2" stroke-width="0.6"/>
<line x1="443.16" y1="320.88" x2="445.16" y2="320.88" stroke="#78b4f2" stroke-width="0.6"/>
<line x1="443.16" y1="323.05" x2="445.16" y2="323.05" stroke="#78b4f2" stroke-width="0.6"/>
<circle cx="456.54" cy="325.22" r="0.9" fill="#78b4f2" stroke="none" stroke-width="1"/>
<circle cx="468.92" cy="326.31" r="0.9" fill="#78b4f2" stroke="none" stroke-width="1"/>
<circle cx="481.30" cy="327.40" r="0.9" fill="#78b4f2" stroke="none" stroke-width="1"/>
<polyline points="419.40,327.40 431.78,327.40 444.16,325.22 456.54,319.79 468.92,288.25 481.30,327.40" fill="none" stroke="#f29a3a" stroke-width="0.8" stroke-linejoin="round"/>
<circle cx="419.40" cy="327.40" r="0.9" fill="#f29a3a" stroke="none" stroke-width="1"/>
<circle cx="431.78" cy="327.40" r="0.9" fill="#f29a3a" stroke="none" stroke-width="1"/>
<circle cx="444.16" cy="325.22" r="0.9" fill="#f29a3a" stroke="none" stroke-width="1"/>
<line x1="444.16" y1="324.14" x2="444.16" y2="326.31" stroke="#f29a3a" stroke-width="0.6"/>
<line x1="443.16" y1="324.14" x2="445.16" y2="324.14" stroke="#f29a3a" stroke-width="0.6"/>
<line x1="443.16" y1="326.31" x2="445.16" y2="326.31" stroke="#f29a3a" stroke-width="0.6"/>
<circle cx="456.54" cy="319.79" r="0.9" fill="#f29a3a" stroke="none" stroke-width="1"/>
<line x1="456.54" y1="318.16" x2="456.54" y2="321.42" stroke="#f29a3a" stroke-width="0.6"/>
<line x1="455.54" y1="318.16" x2="457.54" y2="318.16" stroke="#f29a3a" stroke-width="0.6"/>
<line x1="455.54" y1="321.42" x2="457.54" y2="321.42" stroke="#f29a3a" stroke-width="0.6"/>
<circle cx="468.92" cy="288.25" r="0.9" fill="#f29a3a" stroke="none" stroke-width="1"/>
<line x1="468.92" y1="286.07" x2="468.92" y2="290.43" stroke="#f29a3a" stroke-width="0.6"/>
<line x1="467.92" y1="286.07" x2="469.92" y2="286.07" stroke="#f29a3a" stroke-width="0.6"/>
<line x1="467.92" y1="290.43" x2="469.92" y2="290.43" stroke="#f29a3a" stroke-width="0.6"/>
<circle cx="481.30" cy="327.40" r="0.9" fill="#f29a3a" stroke="none" stroke-width="1"/>
<line x1="500.60" y1="284.00" x2="500.60" y2="327.60" stroke="#444" stroke-width="0.7"/>
<line x1="498.80" y1="327.20" x2="500.60" y2="327.20" stroke="#444" stroke-width="0.6"/>
<text x="498.30" y="328.30" font-size="3.86" text-anchor="end" font-weight="normal" fill="#444" color="#444" textLength="1.84" lengthAdjust="spacingAndGlyphs">0</text>
<line x1="498.80" y1="316.50" x2="500.60" y2="316.50" stroke="#444" stroke-width="0.6"/>
<text x="498.30" y="317.60" font-size="3.86" text-anchor="end" font-weight="normal" fill="#444" color="#444" textLength="3.67" lengthAdjust="spacingAndGlyphs">10</text>
<line x1="498.80" y1="305.80" x2="500.60" y2="305.80" stroke="#444" stroke-width="0.6"/>
<text x="498.30" y="306.90" font-size="3.86" text-anchor="end" font-weight="normal" fill="#444" color="#444" textLength="3.67" lengthAdjust="spacingAndGlyphs">20</text>
<line x1="498.80" y1="295.10" x2="500.60" y2="295.10" stroke="#444" stroke-width="0.6"/>
<text x="498.30" y="296.20" font-size="3.86" text-anchor="end" font-weight="normal" fill="#444" color="#444" textLength="3.67" lengthAdjust="spacingAndGlyphs">30</text>
<line x1="498.80" y1="284.40" x2="500.60" y2="284.40" stroke="#444" stroke-width="0.6"/>
<text x="498.30" y="285.50" font-size="3.86" text-anchor="end" font-weight="normal" fill="#444" color="#444" textLength="3.67" lengthAdjust="spacingAndGlyphs">40</text>
<line x1="500.30" y1="327.20" x2="566.50" y2="327.20" stroke="#444" stroke-width="0.7"/>
<line x1="502.70" y1="327.20" x2="502.70" y2="328.80" stroke="#444" stroke-width="0.6"/>
<text x="502.70" y="333.50" font-size="4.21" text-anchor="middle" font-weight="normal" fill="#333" color="#333" textLength="2.0" lengthAdjust="spacingAndGlyphs">3</text>
<line x1="515.22" y1="327.20" x2="515.22" y2="328.80" stroke="#444" stroke-width="0.6"/>
<text x="515.22" y="333.50" font-size="4.21" text-anchor="middle" font-weight="normal" fill="#333" color="#333" textLength="2.0" lengthAdjust="spacingAndGlyphs">7</text>
<line x1="527.74" y1="327.20" x2="527.74" y2="328.80" stroke="#444" stroke-width="0.6"/>
<text x="527.74" y="333.50" font-size="4.21" text-anchor="middle" font-weight="normal" fill="#333" color="#333" textLength="4.0" lengthAdjust="spacingAndGlyphs">10</text>
<line x1="540.26" y1="327.20" x2="540.26" y2="328.80" stroke="#444" stroke-width="0.6"/>
<text x="540.26" y="333.50" font-size="4.21" text-anchor="middle" font-weight="normal" fill="#333" color="#333" textLength="4.0" lengthAdjust="spacingAndGlyphs">14</text>
<line x1="552.78" y1="327.20" x2="552.78" y2="328.80" stroke="#444" stroke-width="0.6"/>
<text x="552.78" y="333.50" font-size="4.21" text-anchor="middle" font-weight="normal" fill="#333" color="#333" textLength="4.0" lengthAdjust="spacingAndGlyphs">17</text>
<line x1="565.30" y1="327.20" x2="565.30" y2="328.80" stroke="#444" stroke-width="0.6"/>
<text x="565.30" y="333.50" font-size="4.21" text-anchor="middle" font-weight="normal" fill="#333" color="#333" textLength="4.0" lengthAdjust="spacingAndGlyphs">21</text>
<text x="536.30" y="338.80" font-size="5.5" text-anchor="middle" font-weight="normal" fill="#222" color="#222" textLength="63.099999999999966" lengthAdjust="spacingAndGlyphs">Days after tumor implantation</text>
<text x="505.80" y="286.40" font-size="6.79" text-anchor="start" font-weight="normal" fill="#e8283c" color="#e8283c" textLength="6.45" lengthAdjust="spacingAndGlyphs">#2</text>
<polyline points="502.70,327.20 515.22,325.59 527.74,322.38 540.26,292.96 552.78,312.22 565.30,316.50" fill="none" stroke="#78b4f2" stroke-width="0.8" stroke-linejoin="round"/>
<circle cx="502.70" cy="327.20" r="0.9" fill="#78b4f2" stroke="none" stroke-width="1"/>
<circle cx="515.22" cy="325.59" r="0.9" fill="#78b4f2" stroke="none" stroke-width="1"/>
<circle cx="527.74" cy="322.38" r="0.9" fill="#78b4f2" stroke="none" stroke-width="1"/>
<line x1="527.74" y1="321.31" x2="527.74" y2="323.45" stroke="#78b4f2" stroke-width="0.6"/>
<line x1="526.74" y1="321.31" x2="528.74" y2="321.31" stroke="#78b4f2" stroke-width="0.6"/>
<line x1="526.74" y1="323.45" x2="528.74" y2="323.45" stroke="#78b4f2" stroke-width="0.6"/>
<circle cx="540.26" cy="292.96" r="0.9" fill="#78b4f2" stroke="none" stroke-width="1"/>
<line x1="540.26" y1="289.75" x2="540.26" y2="296.17" stroke="#78b4f2" stroke-width="0.6"/>
<line x1="539.26" y1="289.75" x2="541.26" y2="289.75" stroke="#78b4f2" stroke-width="0.6"/>
<line x1="539.26" y1="296.17" x2="541.26" y2="296.17" stroke="#78b4f2" stroke-width="0.6"/>
<circle cx="552.78" cy="312.22" r="0.9" fill="#78b4f2" stroke="none" stroke-width="1"/>
<line x1="552.78" y1="310.08" x2="552.78" y2="314.36" stroke="#78b4f2" stroke-width="0.6"/>
<line x1="551.78" y1="310.08" x2="553.78" y2="310.08" stroke="#78b4f2" stroke-width="0.6"/>
<line x1="551.78" y1="314.36" x2="553.78" y2="314.36" stroke="#78b4f2" stroke-width="0.6"/>
<circle cx="565.30" cy="316.50" r="0.9" fill="#78b4f2" stroke="none" stroke-width="1"/>
<line x1="565.30" y1="314.89" x2="565.30" y2="318.11" stroke="#78b4f2" stroke-width="0.6"/>
<line x1="564.30" y1="314.89" x2="566.30" y2="314.89" stroke="#78b4f2" stroke-width="0.6"/>
<line x1="564.30" y1="318.11" x2="566.30" y2="318.11" stroke="#78b4f2" stroke-width="0.6"/>
<polyline points="502.70,327.20 515.22,327.20 527.74,326.13 540.26,325.06 552.78,325.06 565.30,327.20" fill="none" stroke="#f29a3a" stroke-width="0.8" stroke-linejoin="round"/>
<circle cx="502.70" cy="327.20" r="0.9" fill="#f29a3a" stroke="none" stroke-width="1"/>
<circle cx="515.22" cy="327.20" r="0.9" fill="#f29a3a" stroke="none" stroke-width="1"/>
<circle cx="527.74" cy="326.13" r="0.9" fill="#f29a3a" stroke="none" stroke-width="1"/>
<circle cx="540.26" cy="325.06" r="0.9" fill="#f29a3a" stroke="none" stroke-width="1"/>
<line x1="540.26" y1="324.52" x2="540.26" y2="325.60" stroke="#f29a3a" stroke-width="0.6"/>
<line x1="539.26" y1="324.52" x2="541.26" y2="324.52" stroke="#f29a3a" stroke-width="0.6"/>
<line x1="539.26" y1="325.60" x2="541.26" y2="325.60" stroke="#f29a3a" stroke-width="0.6"/>
<circle cx="552.78" cy="325.06" r="0.9" fill="#f29a3a" stroke="none" stroke-width="1"/>
<line x1="552.78" y1="323.99" x2="552.78" y2="326.13" stroke="#f29a3a" stroke-width="0.6"/>
<line x1="551.78" y1="323.99" x2="553.78" y2="323.99" stroke="#f29a3a" stroke-width="0.6"/>
<line x1="551.78" y1="326.13" x2="553.78" y2="326.13" stroke="#f29a3a" stroke-width="0.6"/>
<circle cx="565.30" cy="327.20" r="0.9" fill="#f29a3a" stroke="none" stroke-width="1"/>
<line x1="582.00" y1="284.90" x2="582.00" y2="328.80" stroke="#444" stroke-width="0.7"/>
<line x1="580.20" y1="328.40" x2="582.00" y2="328.40" stroke="#444" stroke-width="0.6"/>
<text x="579.70" y="329.50" font-size="3.86" text-anchor="end" font-weight="normal" fill="#444" color="#444" textLength="1.84" lengthAdjust="spacingAndGlyphs">0</text>
<line x1="580.20" y1="317.62" x2="582.00" y2="317.62" stroke="#444" stroke-width="0.6"/>
<text x="579.70" y="318.73" font-size="3.86" text-anchor="end" font-weight="normal" fill="#444" color="#444" textLength="3.67" lengthAdjust="spacingAndGlyphs">10</text>
<line x1="580.20" y1="306.85" x2="582.00" y2="306.85" stroke="#444" stroke-width="0.6"/>
<text x="579.70" y="307.95" font-size="3.86" text-anchor="end" font-weight="normal" fill="#444" color="#444" textLength="3.67" lengthAdjust="spacingAndGlyphs">20</text>
<line x1="580.20" y1="296.07" x2="582.00" y2="296.07" stroke="#444" stroke-width="0.6"/>
<text x="579.70" y="297.18" font-size="3.86" text-anchor="end" font-weight="normal" fill="#444" color="#444" textLength="3.67" lengthAdjust="spacingAndGlyphs">30</text>
<line x1="580.20" y1="285.30" x2="582.00" y2="285.30" stroke="#444" stroke-width="0.6"/>
<text x="579.70" y="286.40" font-size="3.86" text-anchor="end" font-weight="normal" fill="#444" color="#444" textLength="3.67" lengthAdjust="spacingAndGlyphs">40</text>
<line x1="581.70" y1="328.40" x2="649.00" y2="328.40" stroke="#444" stroke-width="0.7"/>
<line x1="585.40" y1="328.40" x2="585.40" y2="330.00" stroke="#444" stroke-width="0.6"/>
<text x="585.40" y="334.70" font-size="4.21" text-anchor="middle" font-weight="normal" fill="#333" color="#333" textLength="2.0" lengthAdjust="spacingAndGlyphs">3</text>
<line x1="597.90" y1="328.40" x2="597.90" y2="330.00" stroke="#444" stroke-width="0.6"/>
<text x="597.90" y="334.70" font-size="4.21" text-anchor="middle" font-weight="normal" fill="#333" color="#333" textLength="2.0" lengthAdjust="spacingAndGlyphs">7</text>
<line x1="610.40" y1="328.40" x2="610.40" y2="330.00" stroke="#444" stroke-width="0.6"/>
<text x="610.40" y="334.70" font-size="4.21" text-anchor="middle" font-weight="normal" fill="#333" color="#333" textLength="4.0" lengthAdjust="spacingAndGlyphs">10</text>
<line x1="622.90" y1="328.40" x2="622.90" y2="330.00" stroke="#444" stroke-width="0.6"/>
<text x="622.90" y="334.70" font-size="4.21" text-anchor="middle" font-weight="normal" fill="#333" color="#333" textLength="4.0" lengthAdjust="spacingAndGlyphs">14</text>
<line x1="635.40" y1="328.40" x2="635.40" y2="330.00" stroke="#444" stroke-width="0.6"/>
<text x="635.40" y="334.70" font-size="4.21" text-anchor="middle" font-weight="normal" fill="#333" color="#333" textLength="4.0" lengthAdjust="spacingAndGlyphs">17</text>
<line x1="647.90" y1="328.40" x2="647.90" y2="330.00" stroke="#444" stroke-width="0.6"/>
<text x="647.90" y="334.70" font-size="4.21" text-anchor="middle" font-weight="normal" fill="#333" color="#333" textLength="4.0" lengthAdjust="spacingAndGlyphs">21</text>
<text x="618.65" y="340.00" font-size="5.5" text-anchor="middle" font-weight="normal" fill="#222" color="#222" textLength="63.0" lengthAdjust="spacingAndGlyphs">Days after tumor implantation</text>
<text x="588.20" y="287.30" font-size="6.79" text-anchor="start" font-weight="normal" fill="#e8283c" color="#e8283c" textLength="6.45" lengthAdjust="spacingAndGlyphs">#8</text>
<polyline points="585.40,328.40 597.90,326.25 610.40,324.09 622.90,323.55 635.40,297.15 647.90,327.32" fill="none" stroke="#78b4f2" stroke-width="0.8" stroke-linejoin="round"/>
<circle cx="585.40" cy="328.40" r="0.9" fill="#78b4f2" stroke="none" stroke-width="1"/>
<circle cx="597.90" cy="326.25" r="0.9" fill="#78b4f2" stroke="none" stroke-width="1"/>
<line x1="597.90" y1="325.17" x2="597.90" y2="327.32" stroke="#78b4f2" stroke-width="0.6"/>
<line x1="596.90" y1="325.17" x2="598.90" y2="325.17" stroke="#78b4f2" stroke-width="0.6"/>
<line x1="596.90" y1="327.32" x2="598.90" y2="327.32" stroke="#78b4f2" stroke-width="0.6"/>
<circle cx="610.40" cy="324.09" r="0.9" fill="#78b4f2" stroke="none" stroke-width="1"/>
<circle cx="622.90" cy="323.55" r="0.9" fill="#78b4f2" stroke="none" stroke-width="1"/>
<circle cx="635.40" cy="297.15" r="0.9" fill="#78b4f2" stroke="none" stroke-width="1"/>
<line x1="635.40" y1="295.54" x2="635.40" y2="298.77" stroke="#78b4f2" stroke-width="0.6"/>
<line x1="634.40" y1="295.54" x2="636.40" y2="295.54" stroke="#78b4f2" stroke-width="0.6"/>
<line x1="634.40" y1="298.77" x2="636.40" y2="298.77" stroke="#78b4f2" stroke-width="0.6"/>
<circle cx="647.90" cy="327.32" r="0.9" fill="#78b4f2" stroke="none" stroke-width="1"/>
<polyline points="585.40,328.40 597.90,328.40 610.40,320.86 622.90,306.85 635.40,319.78 647.90,328.40" fill="none" stroke="#f29a3a" stroke-width="0.8" stroke-linejoin="round"/>
<circle cx="585.40" cy="328.40" r="0.9" fill="#f29a3a" stroke="none" stroke-width="1"/>
<circle cx="597.90" cy="328.40" r="0.9" fill="#f29a3a" stroke="none" stroke-width="1"/>
<circle cx="610.40" cy="320.86" r="0.9" fill="#f29a3a" stroke="none" stroke-width="1"/>
<line x1="610.40" y1="319.24" x2="610.40" y2="322.47" stroke="#f29a3a" stroke-width="0.6"/>
<line x1="609.40" y1="319.24" x2="611.40" y2="319.24" stroke="#f29a3a" stroke-width="0.6"/>
<line x1="609.40" y1="322.47" x2="611.40" y2="322.47" stroke="#f29a3a" stroke-width="0.6"/>
<circle cx="622.90" cy="306.85" r="0.9" fill="#f29a3a" stroke="none" stroke-width="1"/>
<line x1="622.90" y1="304.70" x2="622.90" y2="309.00" stroke="#f29a3a" stroke-width="0.6"/>
<line x1="621.90" y1="304.70" x2="623.90" y2="304.70" stroke="#f29a3a" stroke-width="0.6"/>
<line x1="621.90" y1="309.00" x2="623.90" y2="309.00" stroke="#f29a3a" stroke-width="0.6"/>
<circle cx="635.40" cy="319.78" r="0.9" fill="#f29a3a" stroke="none" stroke-width="1"/>
<line x1="635.40" y1="318.70" x2="635.40" y2="320.86" stroke="#f29a3a" stroke-width="0.6"/>
<line x1="634.40" y1="318.70" x2="636.40" y2="318.70" stroke="#f29a3a" stroke-width="0.6"/>
<line x1="634.40" y1="320.86" x2="636.40" y2="320.86" stroke="#f29a3a" stroke-width="0.6"/>
<circle cx="647.90" cy="328.40" r="0.9" fill="#f29a3a" stroke="none" stroke-width="1"/>
<line x1="648.30" y1="289.20" x2="654.60" y2="289.20" stroke="#f29a3a" stroke-width="0.8"/>
<text x="657.70" y="290.50" font-size="4.33" text-anchor="start" font-weight="normal" fill="#333" color="#333" textLength="18.8" lengthAdjust="spacingAndGlyphs">ECD sPD-1</text>
<line x1="648.30" y1="294.60" x2="654.60" y2="294.60" stroke="#78b4f2" stroke-width="0.8"/>
<text x="657.70" y="295.90" font-size="4.33" text-anchor="start" font-weight="normal" fill="#333" color="#333" textLength="15.6" lengthAdjust="spacingAndGlyphs">FL sPD-1</text>
<line x1="453.40" y1="162.40" x2="412.70" y2="201.60" stroke="#dcdcdc" stroke-width="0.45"/>
<line x1="453.66" y1="167.47" x2="413.85" y2="205.84" stroke="#dcdcdc" stroke-width="0.45"/>
<line x1="453.92" y1="172.55" x2="415.00" y2="210.07" stroke="#dcdcdc" stroke-width="0.45"/>
<line x1="454.19" y1="177.62" x2="416.15" y2="214.31" stroke="#dcdcdc" stroke-width="0.45"/>
<line x1="454.45" y1="182.70" x2="417.30" y2="218.55" stroke="#dcdcdc" stroke-width="0.45"/>
<line x1="454.71" y1="187.78" x2="418.45" y2="222.79" stroke="#dcdcdc" stroke-width="0.45"/>
<line x1="454.98" y1="192.85" x2="419.60" y2="227.03" stroke="#dcdcdc" stroke-width="0.45"/>
<line x1="455.24" y1="197.93" x2="420.75" y2="231.26" stroke="#dcdcdc" stroke-width="0.45"/>
<line x1="455.50" y1="203.00" x2="421.90" y2="235.50" stroke="#dcdcdc" stroke-width="0.45"/>
<line x1="453.40" y1="162.40" x2="506.60" y2="188.50" stroke="#dcdcdc" stroke-width="0.45"/>
<line x1="453.75" y1="169.17" x2="505.60" y2="194.42" stroke="#dcdcdc" stroke-width="0.45"/>
<line x1="454.10" y1="175.93" x2="504.60" y2="200.33" stroke="#dcdcdc" stroke-width="0.45"/>
<line x1="454.45" y1="182.70" x2="503.60" y2="206.25" stroke="#dcdcdc" stroke-width="0.45"/>
<line x1="454.80" y1="189.47" x2="502.60" y2="212.17" stroke="#dcdcdc" stroke-width="0.45"/>
<line x1="455.15" y1="196.23" x2="501.60" y2="218.08" stroke="#dcdcdc" stroke-width="0.45"/>
<line x1="455.50" y1="203.00" x2="500.60" y2="224.00" stroke="#dcdcdc" stroke-width="0.45"/>
<line x1="466.70" y1="168.93" x2="466.77" y2="208.25" stroke="#e6e6e6" stroke-width="0.4"/>
<line x1="480.00" y1="175.45" x2="478.05" y2="213.50" stroke="#e6e6e6" stroke-width="0.4"/>
<line x1="493.30" y1="181.97" x2="489.33" y2="218.75" stroke="#e6e6e6" stroke-width="0.4"/>
<line x1="447.59" y1="168.00" x2="450.70" y2="207.64" stroke="#e4e4e4" stroke-width="0.4"/>
<line x1="441.77" y1="173.60" x2="445.90" y2="212.29" stroke="#e4e4e4" stroke-width="0.4"/>
<line x1="435.96" y1="179.20" x2="441.10" y2="216.93" stroke="#e4e4e4" stroke-width="0.4"/>
<line x1="430.14" y1="184.80" x2="436.30" y2="221.57" stroke="#e4e4e4" stroke-width="0.4"/>
<line x1="424.33" y1="190.40" x2="431.50" y2="226.21" stroke="#e4e4e4" stroke-width="0.4"/>
<line x1="418.51" y1="196.00" x2="426.70" y2="230.86" stroke="#e4e4e4" stroke-width="0.4"/>
<line x1="453.40" y1="162.40" x2="455.50" y2="203.00" stroke="#bdbdbd" stroke-width="0.5" stroke-dasharray="1.5,1.2"/>
<line x1="421.90" y1="235.50" x2="468.70" y2="265.30" stroke="#eeeeee" stroke-width="0.35"/>
<line x1="426.70" y1="230.86" x2="473.26" y2="259.40" stroke="#eeeeee" stroke-width="0.35"/>
<line x1="431.50" y1="226.21" x2="477.81" y2="253.50" stroke="#eeeeee" stroke-width="0.35"/>
<line x1="436.30" y1="221.57" x2="482.37" y2="247.60" stroke="#eeeeee" stroke-width="0.35"/>
<line x1="441.10" y1="216.93" x2="486.93" y2="241.70" stroke="#eeeeee" stroke-width="0.35"/>
<line x1="445.90" y1="212.29" x2="491.49" y2="235.80" stroke="#eeeeee" stroke-width="0.35"/>
<line x1="450.70" y1="207.64" x2="496.04" y2="229.90" stroke="#eeeeee" stroke-width="0.35"/>
<line x1="455.50" y1="203.00" x2="500.60" y2="224.00" stroke="#eeeeee" stroke-width="0.35"/>
<line x1="421.90" y1="235.50" x2="455.50" y2="203.00" stroke="#eeeeee" stroke-width="0.35"/>
<line x1="428.59" y1="239.76" x2="461.94" y2="206.00" stroke="#eeeeee" stroke-width="0.35"/>
<line x1="435.27" y1="244.01" x2="468.39" y2="209.00" stroke="#eeeeee" stroke-width="0.35"/>
<line x1="441.96" y1="248.27" x2="474.83" y2="212.00" stroke="#eeeeee" stroke-width="0.35"/>
<line x1="448.64" y1="252.53" x2="481.27" y2="215.00" stroke="#eeeeee" stroke-width="0.35"/>
<line x1="455.33" y1="256.79" x2="487.71" y2="218.00" stroke="#eeeeee" stroke-width="0.35"/>
<line x1="462.01" y1="261.04" x2="494.16" y2="221.00" stroke="#eeeeee" stroke-width="0.35"/>
<line x1="468.70" y1="265.30" x2="500.60" y2="224.00" stroke="#eeeeee" stroke-width="0.35"/>
<line x1="412.70" y1="201.60" x2="453.40" y2="162.40" stroke="#d0d0d0" stroke-width="0.5"/>
<line x1="453.40" y1="162.40" x2="506.60" y2="188.50" stroke="#d0d0d0" stroke-width="0.5"/>
<line x1="412.70" y1="201.60" x2="421.90" y2="235.50" stroke="#d0d0d0" stroke-width="0.5"/>
<line x1="506.60" y1="188.50" x2="500.60" y2="224.00" stroke="#d0d0d0" stroke-width="0.5"/>
<line x1="421.90" y1="235.50" x2="468.70" y2="265.30" stroke="#8a8a8a" stroke-width="0.55"/>
<line x1="468.70" y1="265.30" x2="500.60" y2="224.00" stroke="#8a8a8a" stroke-width="0.55"/>
<line x1="425.24" y1="237.63" x2="424.74" y2="239.03" stroke="#888" stroke-width="0.4"/>
<text x="423.94" y="241.83" font-size="2.6" text-anchor="middle" font-weight="normal" fill="#666" color="#666">0</text>
<line x1="431.93" y1="241.89" x2="431.43" y2="243.29" stroke="#888" stroke-width="0.4"/>
<text x="430.63" y="246.09" font-size="2.6" text-anchor="middle" font-weight="normal" fill="#666" color="#666">3</text>
<line x1="438.61" y1="246.14" x2="438.11" y2="247.54" stroke="#888" stroke-width="0.4"/>
<text x="437.31" y="250.34" font-size="2.6" text-anchor="middle" font-weight="normal" fill="#666" color="#666">7</text>
<line x1="445.30" y1="250.40" x2="444.80" y2="251.80" stroke="#888" stroke-width="0.4"/>
<text x="444.00" y="254.60" font-size="2.6" text-anchor="middle" font-weight="normal" fill="#666" color="#666">10</text>
<line x1="451.99" y1="254.66" x2="451.49" y2="256.06" stroke="#888" stroke-width="0.4"/>
<text x="450.69" y="258.86" font-size="2.6" text-anchor="middle" font-weight="normal" fill="#666" color="#666">14</text>
<line x1="458.67" y1="258.91" x2="458.17" y2="260.31" stroke="#888" stroke-width="0.4"/>
<text x="457.37" y="263.11" font-size="2.6" text-anchor="middle" font-weight="normal" fill="#666" color="#666">17</text>
<line x1="465.36" y1="263.17" x2="464.86" y2="264.57" stroke="#888" stroke-width="0.4"/>
<text x="464.06" y="267.37" font-size="2.6" text-anchor="middle" font-weight="normal" fill="#666" color="#666">21</text>
<line x1="470.98" y1="262.35" x2="471.98" y2="263.35" stroke="#888" stroke-width="0.4"/>
<text x="473.58" y="265.15" font-size="2.6" text-anchor="middle" font-weight="normal" fill="#666" color="#666">1</text>
<line x1="475.54" y1="256.45" x2="476.54" y2="257.45" stroke="#888" stroke-width="0.4"/>
<text x="478.14" y="259.25" font-size="2.6" text-anchor="middle" font-weight="normal" fill="#666" color="#666">2</text>
<line x1="480.09" y1="250.55" x2="481.09" y2="251.55" stroke="#888" stroke-width="0.4"/>
<text x="482.69" y="253.35" font-size="2.6" text-anchor="middle" font-weight="normal" fill="#666" color="#666">3</text>
<line x1="484.65" y1="244.65" x2="485.65" y2="245.65" stroke="#888" stroke-width="0.4"/>
<text x="487.25" y="247.45" font-size="2.6" text-anchor="middle" font-weight="normal" fill="#666" color="#666">4</text>
<line x1="489.21" y1="238.75" x2="490.21" y2="239.75" stroke="#888" stroke-width="0.4"/>
<text x="491.81" y="241.55" font-size="2.6" text-anchor="middle" font-weight="normal" fill="#666" color="#666">5</text>
<line x1="493.76" y1="232.85" x2="494.76" y2="233.85" stroke="#888" stroke-width="0.4"/>
<text x="496.36" y="235.65" font-size="2.6" text-anchor="middle" font-weight="normal" fill="#666" color="#666">6</text>
<line x1="498.32" y1="226.95" x2="499.32" y2="227.95" stroke="#888" stroke-width="0.4"/>
<text x="500.92" y="229.75" font-size="2.6" text-anchor="middle" font-weight="normal" fill="#666" color="#666">7</text>
<line x1="500.60" y1="224.00" x2="501.60" y2="224.00" stroke="#888" stroke-width="0.4"/>
<text x="499.60" y="225.00" font-size="2.9" text-anchor="end" font-weight="normal" fill="#555" color="#555">0</text>
<line x1="501.60" y1="218.08" x2="502.60" y2="218.08" stroke="#888" stroke-width="0.4"/>
<text x="500.60" y="219.08" font-size="2.9" text-anchor="end" font-weight="normal" fill="#555" color="#555">10</text>
<line x1="502.60" y1="212.17" x2="503.60" y2="212.17" stroke="#888" stroke-width="0.4"/>
<text x="501.60" y="213.17" font-size="2.9" text-anchor="end" font-weight="normal" fill="#555" color="#555">20</text>
<line x1="503.60" y1="206.25" x2="504.60" y2="206.25" stroke="#888" stroke-width="0.4"/>
<text x="502.60" y="207.25" font-size="2.9" text-anchor="end" font-weight="normal" fill="#555" color="#555">30</text>
<line x1="504.60" y1="200.33" x2="505.60" y2="200.33" stroke="#888" stroke-width="0.4"/>
<text x="503.60" y="201.33" font-size="2.9" text-anchor="end" font-weight="normal" fill="#555" color="#555">40</text>
<line x1="505.60" y1="194.42" x2="506.60" y2="194.42" stroke="#888" stroke-width="0.4"/>
<text x="504.60" y="195.42" font-size="2.9" text-anchor="end" font-weight="normal" fill="#555" color="#555">50</text>
<line x1="506.60" y1="188.50" x2="507.60" y2="188.50" stroke="#888" stroke-width="0.4"/>
<text x="505.60" y="189.50" font-size="2.9" text-anchor="end" font-weight="normal" fill="#555" color="#555">60</text>
<line x1="427.63" y1="232.66" x2="427.63" y2="235.26" stroke="#c4bcb4" stroke-width="0.9"/>
<circle cx="427.63" cy="232.76" r="0.85" fill="#8c8078" stroke="none" stroke-width="1"/>
<line x1="434.30" y1="236.83" x2="434.30" y2="239.43" stroke="#c4bcb4" stroke-width="0.9"/>
<circle cx="434.30" cy="236.93" r="0.85" fill="#8c8078" stroke="none" stroke-width="1"/>
<line x1="440.97" y1="241.00" x2="440.97" y2="243.60" stroke="#c4bcb4" stroke-width="0.9"/>
<circle cx="440.97" cy="241.10" r="0.85" fill="#8c8078" stroke="none" stroke-width="1"/>
<line x1="447.64" y1="245.16" x2="447.64" y2="247.76" stroke="#c4bcb4" stroke-width="0.9"/>
<circle cx="447.64" cy="245.26" r="0.85" fill="#8c8078" stroke="none" stroke-width="1"/>
<line x1="454.31" y1="249.33" x2="454.31" y2="251.93" stroke="#c4bcb4" stroke-width="0.9"/>
<circle cx="454.31" cy="249.43" r="0.85" fill="#8c8078" stroke="none" stroke-width="1"/>
<line x1="460.98" y1="253.50" x2="460.98" y2="256.10" stroke="#c4bcb4" stroke-width="0.9"/>
<circle cx="460.98" cy="253.60" r="0.85" fill="#8c8078" stroke="none" stroke-width="1"/>
<line x1="467.64" y1="257.67" x2="467.64" y2="260.27" stroke="#c4bcb4" stroke-width="0.9"/>
<circle cx="467.64" cy="257.77" r="0.85" fill="#8c8078" stroke="none" stroke-width="1"/>
<line x1="432.42" y1="227.93" x2="432.42" y2="230.53" stroke="#c4bcb4" stroke-width="0.9"/>
<circle cx="432.42" cy="228.03" r="0.85" fill="#8c8078" stroke="none" stroke-width="1"/>
<line x1="439.05" y1="231.92" x2="439.05" y2="234.52" stroke="#c4bcb4" stroke-width="0.9"/>
<circle cx="439.05" cy="232.02" r="0.85" fill="#8c8078" stroke="none" stroke-width="1"/>
<line x1="445.68" y1="235.91" x2="445.68" y2="238.51" stroke="#c4bcb4" stroke-width="0.9"/>
<circle cx="445.68" cy="236.01" r="0.85" fill="#8c8078" stroke="none" stroke-width="1"/>
<line x1="452.32" y1="239.89" x2="452.32" y2="242.49" stroke="#c4bcb4" stroke-width="0.9"/>
<circle cx="452.32" cy="239.99" r="0.85" fill="#8c8078" stroke="none" stroke-width="1"/>
<line x1="458.95" y1="243.88" x2="458.95" y2="246.48" stroke="#c4bcb4" stroke-width="0.9"/>
<circle cx="458.95" cy="243.98" r="0.85" fill="#8c8078" stroke="none" stroke-width="1"/>
<line x1="465.59" y1="247.87" x2="465.59" y2="250.47" stroke="#c4bcb4" stroke-width="0.9"/>
<circle cx="465.59" cy="247.97" r="0.85" fill="#8c8078" stroke="none" stroke-width="1"/>
<line x1="472.22" y1="251.86" x2="472.22" y2="254.46" stroke="#c4bcb4" stroke-width="0.9"/>
<circle cx="472.22" cy="251.96" r="0.85" fill="#8c8078" stroke="none" stroke-width="1"/>
<line x1="437.20" y1="223.20" x2="437.20" y2="225.80" stroke="#c4bcb4" stroke-width="0.9"/>
<circle cx="437.20" cy="223.30" r="0.85" fill="#8c8078" stroke="none" stroke-width="1"/>
<line x1="443.80" y1="227.01" x2="443.80" y2="229.61" stroke="#c4bcb4" stroke-width="0.9"/>
<circle cx="443.80" cy="227.11" r="0.85" fill="#8c8078" stroke="none" stroke-width="1"/>
<line x1="450.40" y1="230.81" x2="450.40" y2="233.41" stroke="#c4bcb4" stroke-width="0.9"/>
<circle cx="450.40" cy="230.91" r="0.85" fill="#8c8078" stroke="none" stroke-width="1"/>
<line x1="457.00" y1="234.62" x2="457.00" y2="237.22" stroke="#c4bcb4" stroke-width="0.9"/>
<circle cx="457.00" cy="234.72" r="0.85" fill="#8c8078" stroke="none" stroke-width="1"/>
<line x1="463.60" y1="238.43" x2="463.60" y2="241.03" stroke="#c4bcb4" stroke-width="0.9"/>
<circle cx="463.60" cy="238.53" r="0.85" fill="#8c8078" stroke="none" stroke-width="1"/>
<line x1="470.19" y1="242.24" x2="470.19" y2="244.84" stroke="#c4bcb4" stroke-width="0.9"/>
<circle cx="470.19" cy="242.34" r="0.85" fill="#8c8078" stroke="none" stroke-width="1"/>
<line x1="476.79" y1="246.05" x2="476.79" y2="248.65" stroke="#c4bcb4" stroke-width="0.9"/>
<circle cx="476.79" cy="246.15" r="0.85" fill="#8c8078" stroke="none" stroke-width="1"/>
<line x1="441.98" y1="218.46" x2="441.98" y2="221.06" stroke="#c4bcb4" stroke-width="0.9"/>
<circle cx="441.98" cy="218.56" r="0.85" fill="#8c8078" stroke="none" stroke-width="1"/>
<line x1="448.55" y1="222.09" x2="448.55" y2="224.69" stroke="#c4bcb4" stroke-width="0.9"/>
<circle cx="448.55" cy="222.19" r="0.85" fill="#8c8078" stroke="none" stroke-width="1"/>
<line x1="455.11" y1="225.72" x2="455.11" y2="228.32" stroke="#c4bcb4" stroke-width="0.9"/>
<circle cx="455.11" cy="225.82" r="0.85" fill="#8c8078" stroke="none" stroke-width="1"/>
<line x1="461.67" y1="229.35" x2="461.67" y2="231.95" stroke="#c4bcb4" stroke-width="0.9"/>
<circle cx="461.67" cy="229.45" r="0.85" fill="#8c8078" stroke="none" stroke-width="1"/>
<line x1="468.24" y1="232.98" x2="468.24" y2="235.58" stroke="#c4bcb4" stroke-width="0.9"/>
<circle cx="468.24" cy="233.08" r="0.85" fill="#8c8078" stroke="none" stroke-width="1"/>
<line x1="474.80" y1="236.61" x2="474.80" y2="239.21" stroke="#c4bcb4" stroke-width="0.9"/>
<circle cx="474.80" cy="236.71" r="0.85" fill="#8c8078" stroke="none" stroke-width="1"/>
<line x1="481.37" y1="240.24" x2="481.37" y2="242.84" stroke="#c4bcb4" stroke-width="0.9"/>
<circle cx="481.37" cy="240.34" r="0.85" fill="#8c8078" stroke="none" stroke-width="1"/>
<line x1="446.76" y1="213.73" x2="446.76" y2="216.33" stroke="#c4bcb4" stroke-width="0.9"/>
<circle cx="446.76" cy="213.83" r="0.85" fill="#8c8078" stroke="none" stroke-width="1"/>
<line x1="453.29" y1="217.18" x2="453.29" y2="219.78" stroke="#c4bcb4" stroke-width="0.9"/>
<circle cx="453.29" cy="217.28" r="0.85" fill="#8c8078" stroke="none" stroke-width="1"/>
<line x1="459.82" y1="220.63" x2="459.82" y2="223.23" stroke="#c4bcb4" stroke-width="0.9"/>
<circle cx="459.82" cy="220.73" r="0.85" fill="#8c8078" stroke="none" stroke-width="1"/>
<line x1="466.35" y1="224.08" x2="466.35" y2="226.68" stroke="#c4bcb4" stroke-width="0.9"/>
<circle cx="466.35" cy="224.18" r="0.85" fill="#8c8078" stroke="none" stroke-width="1"/>
<line x1="472.88" y1="227.53" x2="472.88" y2="230.13" stroke="#c4bcb4" stroke-width="0.9"/>
<circle cx="472.88" cy="227.63" r="0.85" fill="#8c8078" stroke="none" stroke-width="1"/>
<line x1="479.41" y1="230.98" x2="479.41" y2="233.58" stroke="#c4bcb4" stroke-width="0.9"/>
<circle cx="479.41" cy="231.08" r="0.85" fill="#8c8078" stroke="none" stroke-width="1"/>
<line x1="485.94" y1="234.43" x2="485.94" y2="237.03" stroke="#c4bcb4" stroke-width="0.9"/>
<circle cx="485.94" cy="234.53" r="0.85" fill="#8c8078" stroke="none" stroke-width="1"/>
<line x1="451.55" y1="209.00" x2="451.55" y2="211.60" stroke="#c4bcb4" stroke-width="0.9"/>
<circle cx="451.55" cy="209.10" r="0.85" fill="#8c8078" stroke="none" stroke-width="1"/>
<line x1="458.04" y1="212.27" x2="458.04" y2="214.87" stroke="#c4bcb4" stroke-width="0.9"/>
<circle cx="458.04" cy="212.37" r="0.85" fill="#8c8078" stroke="none" stroke-width="1"/>
<line x1="464.54" y1="215.54" x2="464.54" y2="218.14" stroke="#c4bcb4" stroke-width="0.9"/>
<circle cx="464.54" cy="215.64" r="0.85" fill="#8c8078" stroke="none" stroke-width="1"/>
<line x1="471.03" y1="218.81" x2="471.03" y2="221.41" stroke="#c4bcb4" stroke-width="0.9"/>
<circle cx="471.03" cy="218.91" r="0.85" fill="#8c8078" stroke="none" stroke-width="1"/>
<line x1="477.53" y1="222.08" x2="477.53" y2="224.68" stroke="#c4bcb4" stroke-width="0.9"/>
<circle cx="477.53" cy="222.18" r="0.85" fill="#8c8078" stroke="none" stroke-width="1"/>
<line x1="484.02" y1="225.35" x2="484.02" y2="227.95" stroke="#c4bcb4" stroke-width="0.9"/>
<circle cx="484.02" cy="225.45" r="0.85" fill="#8c8078" stroke="none" stroke-width="1"/>
<line x1="490.52" y1="228.62" x2="490.52" y2="231.22" stroke="#c4bcb4" stroke-width="0.9"/>
<circle cx="490.52" cy="228.72" r="0.85" fill="#8c8078" stroke="none" stroke-width="1"/>
<line x1="456.33" y1="204.27" x2="456.33" y2="206.87" stroke="#c4bcb4" stroke-width="0.9"/>
<circle cx="456.33" cy="204.37" r="0.85" fill="#8c8078" stroke="none" stroke-width="1"/>
<line x1="462.79" y1="207.36" x2="462.79" y2="209.96" stroke="#c4bcb4" stroke-width="0.9"/>
<circle cx="462.79" cy="207.46" r="0.85" fill="#8c8078" stroke="none" stroke-width="1"/>
<line x1="469.25" y1="210.45" x2="469.25" y2="213.05" stroke="#c4bcb4" stroke-width="0.9"/>
<circle cx="469.25" cy="210.55" r="0.85" fill="#8c8078" stroke="none" stroke-width="1"/>
<line x1="475.71" y1="213.54" x2="475.71" y2="216.14" stroke="#c4bcb4" stroke-width="0.9"/>
<circle cx="475.71" cy="213.64" r="0.85" fill="#8c8078" stroke="none" stroke-width="1"/>
<line x1="482.17" y1="216.63" x2="482.17" y2="219.23" stroke="#c4bcb4" stroke-width="0.9"/>
<circle cx="482.17" cy="216.73" r="0.85" fill="#8c8078" stroke="none" stroke-width="1"/>
<line x1="488.63" y1="219.72" x2="488.63" y2="222.32" stroke="#c4bcb4" stroke-width="0.9"/>
<circle cx="488.63" cy="219.82" r="0.85" fill="#8c8078" stroke="none" stroke-width="1"/>
<line x1="495.09" y1="222.81" x2="495.09" y2="225.41" stroke="#c4bcb4" stroke-width="0.9"/>
<circle cx="495.09" cy="222.91" r="0.85" fill="#8c8078" stroke="none" stroke-width="1"/>
<line x1="428.40" y1="210.20" x2="434.60" y2="240.40" stroke="#d9862e" stroke-width="2.2" stroke-linecap="butt"/>
<circle cx="428.40" cy="210.20" r="0.9900000000000001" fill="#8a7a6a" stroke="none" stroke-width="1"/>
<line x1="457.80" y1="202.20" x2="459.00" y2="214.00" stroke="#ebbd8c" stroke-width="1.3" stroke-linecap="butt"/>
<circle cx="457.80" cy="202.20" r="0.5850000000000001" fill="#8a7a6a" stroke="none" stroke-width="1"/>
<line x1="465.70" y1="199.60" x2="466.50" y2="218.00" stroke="#e6a867" stroke-width="1.3" stroke-linecap="butt"/>
<circle cx="465.70" cy="199.60" r="0.5850000000000001" fill="#8a7a6a" stroke="none" stroke-width="1"/>
<line x1="472.30" y1="208.80" x2="473.00" y2="212.80" stroke="#ead2b8" stroke-width="1.0" stroke-linecap="butt"/>
<circle cx="472.30" cy="208.80" r="0.45" fill="#8a7a6a" stroke="none" stroke-width="1"/>
<line x1="463.00" y1="215.40" x2="463.60" y2="221.20" stroke="#ead2b8" stroke-width="1.0" stroke-linecap="butt"/>
<circle cx="463.00" cy="215.40" r="0.45" fill="#8a7a6a" stroke="none" stroke-width="1"/>
<line x1="474.10" y1="216.70" x2="474.70" y2="222.80" stroke="#ead2b8" stroke-width="1.0" stroke-linecap="butt"/>
<circle cx="474.10" cy="216.70" r="0.45" fill="#8a7a6a" stroke="none" stroke-width="1"/>
<line x1="443.30" y1="239.20" x2="444.00" y2="243.90" stroke="#ead2b8" stroke-width="1.0" stroke-linecap="butt"/>
<circle cx="443.30" cy="239.20" r="0.45" fill="#8a7a6a" stroke="none" stroke-width="1"/>
<line x1="441.00" y1="239.00" x2="441.60" y2="243.00" stroke="#ead2b8" stroke-width="1.0" stroke-linecap="butt"/>
<circle cx="441.00" cy="239.00" r="0.45" fill="#8a7a6a" stroke="none" stroke-width="1"/>
<rect x="515.50" y="193.20" width="6.40" height="4.90" fill="#c2c2c2" stroke="none" stroke-width="1"/>
<rect x="515.50" y="198.10" width="6.40" height="5.20" fill="#e8892a" stroke="none" stroke-width="1"/>
<rect x="515.50" y="203.30" width="6.40" height="5.20" fill="#f0b070" stroke="none" stroke-width="1"/>
<rect x="515.50" y="208.50" width="6.40" height="5.10" fill="#f6d0a8" stroke="none" stroke-width="1"/>
<rect x="515.50" y="213.60" width="6.40" height="5.00" fill="#fcf0e4" stroke="none" stroke-width="1"/>
<rect x="515.50" y="219.10" width="6.40" height="4.90" fill="#0a0a0a" stroke="none" stroke-width="1"/>
<line x1="521.90" y1="198.10" x2="522.70" y2="198.10" stroke="#666" stroke-width="0.3"/>
<text x="523.30" y="199.00" font-size="2.6" text-anchor="start" font-weight="normal" fill="#555" color="#555">00.000</text>
<line x1="521.90" y1="203.30" x2="522.70" y2="203.30" stroke="#666" stroke-width="0.3"/>
<text x="523.30" y="204.20" font-size="2.6" text-anchor="start" font-weight="normal" fill="#555" color="#555">00.000</text>
<line x1="521.90" y1="208.50" x2="522.70" y2="208.50" stroke="#666" stroke-width="0.3"/>
<text x="523.30" y="209.40" font-size="2.6" text-anchor="start" font-weight="normal" fill="#555" color="#555">00.000</text>
<line x1="521.90" y1="213.60" x2="522.70" y2="213.60" stroke="#666" stroke-width="0.3"/>
<text x="523.30" y="214.50" font-size="2.6" text-anchor="start" font-weight="normal" fill="#555" color="#555">00.000</text>
<line x1="521.90" y1="218.60" x2="522.70" y2="218.60" stroke="#666" stroke-width="0.3"/>
<text x="523.30" y="219.50" font-size="2.6" text-anchor="start" font-weight="normal" fill="#555" color="#555">00.000</text>
<text x="415.30" y="175.90" font-size="7.59" text-anchor="start" font-weight="normal" fill="#1a1a1a" color="#1a1a1a" textLength="35.66" lengthAdjust="spacingAndGlyphs">ECD sPD-1</text>
<text x="418.20" y="241.80" font-size="4.4" text-anchor="start" font-weight="normal" fill="#333" color="#333" transform="rotate(36.3 418.2 241.8)" textLength="52.5" lengthAdjust="spacingAndGlyphs">Days post tumor implantation</text>
<text x="490.60" y="251.50" font-size="4.95" text-anchor="middle" font-weight="normal" fill="#333" color="#333" transform="rotate(-54.4 490.6 251.5)" textLength="9.5" lengthAdjust="spacingAndGlyphs">mice</text>
<text x="509.60" y="213.50" font-size="3.63" text-anchor="middle" font-weight="normal" fill="#333" color="#333" transform="rotate(-82 509.6 213.5)" textLength="20.35" lengthAdjust="spacingAndGlyphs">sPD-1 (ng/ml)</text>
<line x1="582.30" y1="162.50" x2="539.20" y2="190.80" stroke="#dcdcdc" stroke-width="0.45"/>
<line x1="581.76" y1="167.19" x2="539.15" y2="195.66" stroke="#dcdcdc" stroke-width="0.45"/>
<line x1="581.22" y1="171.88" x2="539.10" y2="200.53" stroke="#dcdcdc" stroke-width="0.45"/>
<line x1="580.69" y1="176.56" x2="539.05" y2="205.39" stroke="#dcdcdc" stroke-width="0.45"/>
<line x1="580.15" y1="181.25" x2="539.00" y2="210.25" stroke="#dcdcdc" stroke-width="0.45"/>
<line x1="579.61" y1="185.94" x2="538.95" y2="215.11" stroke="#dcdcdc" stroke-width="0.45"/>
<line x1="579.08" y1="190.62" x2="538.90" y2="219.97" stroke="#dcdcdc" stroke-width="0.45"/>
<line x1="578.54" y1="195.31" x2="538.85" y2="224.84" stroke="#dcdcdc" stroke-width="0.45"/>
<line x1="578.00" y1="200.00" x2="538.80" y2="229.70" stroke="#dcdcdc" stroke-width="0.45"/>
<line x1="582.30" y1="162.50" x2="632.50" y2="195.00" stroke="#dcdcdc" stroke-width="0.45"/>
<line x1="581.58" y1="168.75" x2="630.08" y2="201.00" stroke="#dcdcdc" stroke-width="0.45"/>
<line x1="580.87" y1="175.00" x2="627.67" y2="207.00" stroke="#dcdcdc" stroke-width="0.45"/>
<line x1="580.15" y1="181.25" x2="625.25" y2="213.00" stroke="#dcdcdc" stroke-width="0.45"/>
<line x1="579.43" y1="187.50" x2="622.83" y2="219.00" stroke="#dcdcdc" stroke-width="0.45"/>
<line x1="578.72" y1="193.75" x2="620.42" y2="225.00" stroke="#dcdcdc" stroke-width="0.45"/>
<line x1="578.00" y1="200.00" x2="618.00" y2="231.00" stroke="#dcdcdc" stroke-width="0.45"/>
<line x1="594.85" y1="170.62" x2="588.00" y2="207.75" stroke="#e6e6e6" stroke-width="0.4"/>
<line x1="607.40" y1="178.75" x2="598.00" y2="215.50" stroke="#e6e6e6" stroke-width="0.4"/>
<line x1="619.95" y1="186.88" x2="608.00" y2="223.25" stroke="#e6e6e6" stroke-width="0.4"/>
<line x1="576.14" y1="166.54" x2="572.40" y2="204.24" stroke="#e4e4e4" stroke-width="0.4"/>
<line x1="569.99" y1="170.59" x2="566.80" y2="208.49" stroke="#e4e4e4" stroke-width="0.4"/>
<line x1="563.83" y1="174.63" x2="561.20" y2="212.73" stroke="#e4e4e4" stroke-width="0.4"/>
<line x1="557.67" y1="178.67" x2="555.60" y2="216.97" stroke="#e4e4e4" stroke-width="0.4"/>
<line x1="551.51" y1="182.71" x2="550.00" y2="221.21" stroke="#e4e4e4" stroke-width="0.4"/>
<line x1="545.36" y1="186.76" x2="544.40" y2="225.46" stroke="#e4e4e4" stroke-width="0.4"/>
<line x1="582.30" y1="162.50" x2="578.00" y2="200.00" stroke="#bdbdbd" stroke-width="0.5" stroke-dasharray="1.5,1.2"/>
<line x1="538.80" y1="229.70" x2="582.40" y2="265.60" stroke="#eeeeee" stroke-width="0.35"/>
<line x1="544.40" y1="225.46" x2="587.49" y2="260.66" stroke="#eeeeee" stroke-width="0.35"/>
<line x1="550.00" y1="221.21" x2="592.57" y2="255.71" stroke="#eeeeee" stroke-width="0.35"/>
<line x1="555.60" y1="216.97" x2="597.66" y2="250.77" stroke="#eeeeee" stroke-width="0.35"/>
<line x1="561.20" y1="212.73" x2="602.74" y2="245.83" stroke="#eeeeee" stroke-width="0.35"/>
<line x1="566.80" y1="208.49" x2="607.83" y2="240.89" stroke="#eeeeee" stroke-width="0.35"/>
<line x1="572.40" y1="204.24" x2="612.91" y2="235.94" stroke="#eeeeee" stroke-width="0.35"/>
<line x1="578.00" y1="200.00" x2="618.00" y2="231.00" stroke="#eeeeee" stroke-width="0.35"/>
<line x1="538.80" y1="229.70" x2="578.00" y2="200.00" stroke="#eeeeee" stroke-width="0.35"/>
<line x1="545.03" y1="234.83" x2="583.71" y2="204.43" stroke="#eeeeee" stroke-width="0.35"/>
<line x1="551.26" y1="239.96" x2="589.43" y2="208.86" stroke="#eeeeee" stroke-width="0.35"/>
<line x1="557.49" y1="245.09" x2="595.14" y2="213.29" stroke="#eeeeee" stroke-width="0.35"/>
<line x1="563.71" y1="250.21" x2="600.86" y2="217.71" stroke="#eeeeee" stroke-width="0.35"/>
<line x1="569.94" y1="255.34" x2="606.57" y2="222.14" stroke="#eeeeee" stroke-width="0.35"/>
<line x1="576.17" y1="260.47" x2="612.29" y2="226.57" stroke="#eeeeee" stroke-width="0.35"/>
<line x1="582.40" y1="265.60" x2="618.00" y2="231.00" stroke="#eeeeee" stroke-width="0.35"/>
<line x1="539.20" y1="190.80" x2="582.30" y2="162.50" stroke="#d0d0d0" stroke-width="0.5"/>
<line x1="582.30" y1="162.50" x2="632.50" y2="195.00" stroke="#d0d0d0" stroke-width="0.5"/>
<line x1="539.20" y1="190.80" x2="538.80" y2="229.70" stroke="#d0d0d0" stroke-width="0.5"/>
<line x1="632.50" y1="195.00" x2="618.00" y2="231.00" stroke="#d0d0d0" stroke-width="0.5"/>
<line x1="538.80" y1="229.70" x2="582.40" y2="265.60" stroke="#8a8a8a" stroke-width="0.55"/>
<line x1="582.40" y1="265.60" x2="618.00" y2="231.00" stroke="#8a8a8a" stroke-width="0.55"/>
<line x1="541.91" y1="232.26" x2="541.41" y2="233.66" stroke="#888" stroke-width="0.4"/>
<text x="540.61" y="236.46" font-size="2.6" text-anchor="middle" font-weight="normal" fill="#666" color="#666">0</text>
<line x1="548.14" y1="237.39" x2="547.64" y2="238.79" stroke="#888" stroke-width="0.4"/>
<text x="546.84" y="241.59" font-size="2.6" text-anchor="middle" font-weight="normal" fill="#666" color="#666">3</text>
<line x1="554.37" y1="242.52" x2="553.87" y2="243.92" stroke="#888" stroke-width="0.4"/>
<text x="553.07" y="246.72" font-size="2.6" text-anchor="middle" font-weight="normal" fill="#666" color="#666">7</text>
<line x1="560.60" y1="247.65" x2="560.10" y2="249.05" stroke="#888" stroke-width="0.4"/>
<text x="559.30" y="251.85" font-size="2.6" text-anchor="middle" font-weight="normal" fill="#666" color="#666">10</text>
<line x1="566.83" y1="252.78" x2="566.33" y2="254.18" stroke="#888" stroke-width="0.4"/>
<text x="565.53" y="256.98" font-size="2.6" text-anchor="middle" font-weight="normal" fill="#666" color="#666">14</text>
<line x1="573.06" y1="257.91" x2="572.56" y2="259.31" stroke="#888" stroke-width="0.4"/>
<text x="571.76" y="262.11" font-size="2.6" text-anchor="middle" font-weight="normal" fill="#666" color="#666">17</text>
<line x1="579.29" y1="263.04" x2="578.79" y2="264.44" stroke="#888" stroke-width="0.4"/>
<text x="577.99" y="267.24" font-size="2.6" text-anchor="middle" font-weight="normal" fill="#666" color="#666">21</text>
<line x1="584.94" y1="263.13" x2="585.94" y2="264.13" stroke="#888" stroke-width="0.4"/>
<text x="587.54" y="265.93" font-size="2.6" text-anchor="middle" font-weight="normal" fill="#666" color="#666">1</text>
<line x1="590.03" y1="258.19" x2="591.03" y2="259.19" stroke="#888" stroke-width="0.4"/>
<text x="592.63" y="260.99" font-size="2.6" text-anchor="middle" font-weight="normal" fill="#666" color="#666">2</text>
<line x1="595.11" y1="253.24" x2="596.11" y2="254.24" stroke="#888" stroke-width="0.4"/>
<text x="597.71" y="256.04" font-size="2.6" text-anchor="middle" font-weight="normal" fill="#666" color="#666">3</text>
<line x1="600.20" y1="248.30" x2="601.20" y2="249.30" stroke="#888" stroke-width="0.4"/>
<text x="602.80" y="251.10" font-size="2.6" text-anchor="middle" font-weight="normal" fill="#666" color="#666">4</text>
<line x1="605.29" y1="243.36" x2="606.29" y2="244.36" stroke="#888" stroke-width="0.4"/>
<text x="607.89" y="246.16" font-size="2.6" text-anchor="middle" font-weight="normal" fill="#666" color="#666">5</text>
<line x1="610.37" y1="238.41" x2="611.37" y2="239.41" stroke="#888" stroke-width="0.4"/>
<text x="612.97" y="241.21" font-size="2.6" text-anchor="middle" font-weight="normal" fill="#666" color="#666">6</text>
<line x1="615.46" y1="233.47" x2="616.46" y2="234.47" stroke="#888" stroke-width="0.4"/>
<text x="618.06" y="236.27" font-size="2.6" text-anchor="middle" font-weight="normal" fill="#666" color="#666">7</text>
<line x1="618.00" y1="231.00" x2="619.00" y2="231.00" stroke="#888" stroke-width="0.4"/>
<text x="617.00" y="232.00" font-size="2.9" text-anchor="end" font-weight="normal" fill="#555" color="#555">0</text>
<line x1="620.42" y1="225.00" x2="621.42" y2="225.00" stroke="#888" stroke-width="0.4"/>
<text x="619.42" y="226.00" font-size="2.9" text-anchor="end" font-weight="normal" fill="#555" color="#555">10</text>
<line x1="622.83" y1="219.00" x2="623.83" y2="219.00" stroke="#888" stroke-width="0.4"/>
<text x="621.83" y="220.00" font-size="2.9" text-anchor="end" font-weight="normal" fill="#555" color="#555">20</text>
<line x1="625.25" y1="213.00" x2="626.25" y2="213.00" stroke="#888" stroke-width="0.4"/>
<text x="624.25" y="214.00" font-size="2.9" text-anchor="end" font-weight="normal" fill="#555" color="#555">30</text>
<line x1="627.67" y1="207.00" x2="628.67" y2="207.00" stroke="#888" stroke-width="0.4"/>
<text x="626.67" y="208.00" font-size="2.9" text-anchor="end" font-weight="normal" fill="#555" color="#555">40</text>
<line x1="630.08" y1="201.00" x2="631.08" y2="201.00" stroke="#888" stroke-width="0.4"/>
<text x="629.08" y="202.00" font-size="2.9" text-anchor="end" font-weight="normal" fill="#555" color="#555">50</text>
<line x1="632.50" y1="195.00" x2="633.50" y2="195.00" stroke="#888" stroke-width="0.4"/>
<text x="631.50" y="196.00" font-size="2.9" text-anchor="end" font-weight="normal" fill="#555" color="#555">60</text>
<line x1="544.70" y1="227.52" x2="544.70" y2="230.12" stroke="#c4bcb4" stroke-width="0.9"/>
<circle cx="544.70" cy="227.62" r="0.85" fill="#8a8a8a" stroke="none" stroke-width="1"/>
<line x1="550.89" y1="232.60" x2="550.89" y2="235.20" stroke="#c4bcb4" stroke-width="0.9"/>
<circle cx="550.89" cy="232.70" r="0.85" fill="#8a8a8a" stroke="none" stroke-width="1"/>
<line x1="557.08" y1="237.68" x2="557.08" y2="240.28" stroke="#c4bcb4" stroke-width="0.9"/>
<circle cx="557.08" cy="237.78" r="0.85" fill="#8a8a8a" stroke="none" stroke-width="1"/>
<line x1="563.27" y1="242.75" x2="563.27" y2="245.35" stroke="#c4bcb4" stroke-width="0.9"/>
<circle cx="563.27" cy="242.85" r="0.85" fill="#8a8a8a" stroke="none" stroke-width="1"/>
<line x1="569.46" y1="247.83" x2="569.46" y2="250.43" stroke="#c4bcb4" stroke-width="0.9"/>
<circle cx="569.46" cy="247.93" r="0.85" fill="#8a8a8a" stroke="none" stroke-width="1"/>
<line x1="575.66" y1="252.91" x2="575.66" y2="255.51" stroke="#c4bcb4" stroke-width="0.9"/>
<circle cx="575.66" cy="253.01" r="0.85" fill="#8a8a8a" stroke="none" stroke-width="1"/>
<line x1="581.85" y1="257.99" x2="581.85" y2="260.59" stroke="#c4bcb4" stroke-width="0.9"/>
<circle cx="581.85" cy="258.09" r="0.85" fill="#8a8a8a" stroke="none" stroke-width="1"/>
<line x1="550.26" y1="223.23" x2="550.26" y2="225.83" stroke="#c4bcb4" stroke-width="0.9"/>
<circle cx="550.26" cy="223.33" r="0.85" fill="#8a8a8a" stroke="none" stroke-width="1"/>
<line x1="556.38" y1="228.20" x2="556.38" y2="230.80" stroke="#c4bcb4" stroke-width="0.9"/>
<circle cx="556.38" cy="228.30" r="0.85" fill="#8a8a8a" stroke="none" stroke-width="1"/>
<line x1="562.50" y1="233.18" x2="562.50" y2="235.78" stroke="#c4bcb4" stroke-width="0.9"/>
<circle cx="562.50" cy="233.28" r="0.85" fill="#8a8a8a" stroke="none" stroke-width="1"/>
<line x1="568.61" y1="238.16" x2="568.61" y2="240.76" stroke="#c4bcb4" stroke-width="0.9"/>
<circle cx="568.61" cy="238.26" r="0.85" fill="#8a8a8a" stroke="none" stroke-width="1"/>
<line x1="574.73" y1="243.14" x2="574.73" y2="245.74" stroke="#c4bcb4" stroke-width="0.9"/>
<circle cx="574.73" cy="243.24" r="0.85" fill="#8a8a8a" stroke="none" stroke-width="1"/>
<line x1="580.85" y1="248.12" x2="580.85" y2="250.72" stroke="#c4bcb4" stroke-width="0.9"/>
<circle cx="580.85" cy="248.22" r="0.85" fill="#8a8a8a" stroke="none" stroke-width="1"/>
<line x1="586.97" y1="253.10" x2="586.97" y2="255.70" stroke="#c4bcb4" stroke-width="0.9"/>
<circle cx="586.97" cy="253.20" r="0.85" fill="#8a8a8a" stroke="none" stroke-width="1"/>
<line x1="555.82" y1="218.93" x2="555.82" y2="221.53" stroke="#c4bcb4" stroke-width="0.9"/>
<circle cx="555.82" cy="219.03" r="0.85" fill="#8a8a8a" stroke="none" stroke-width="1"/>
<line x1="561.87" y1="223.81" x2="561.87" y2="226.41" stroke="#c4bcb4" stroke-width="0.9"/>
<circle cx="561.87" cy="223.91" r="0.85" fill="#8a8a8a" stroke="none" stroke-width="1"/>
<line x1="567.91" y1="228.69" x2="567.91" y2="231.29" stroke="#c4bcb4" stroke-width="0.9"/>
<circle cx="567.91" cy="228.79" r="0.85" fill="#8a8a8a" stroke="none" stroke-width="1"/>
<line x1="573.96" y1="233.57" x2="573.96" y2="236.17" stroke="#c4bcb4" stroke-width="0.9"/>
<circle cx="573.96" cy="233.67" r="0.85" fill="#8a8a8a" stroke="none" stroke-width="1"/>
<line x1="580.00" y1="238.45" x2="580.00" y2="241.05" stroke="#c4bcb4" stroke-width="0.9"/>
<circle cx="580.00" cy="238.55" r="0.85" fill="#8a8a8a" stroke="none" stroke-width="1"/>
<line x1="586.05" y1="243.33" x2="586.05" y2="245.93" stroke="#c4bcb4" stroke-width="0.9"/>
<circle cx="586.05" cy="243.43" r="0.85" fill="#8a8a8a" stroke="none" stroke-width="1"/>
<line x1="592.09" y1="248.20" x2="592.09" y2="250.80" stroke="#c4bcb4" stroke-width="0.9"/>
<circle cx="592.09" cy="248.30" r="0.85" fill="#8a8a8a" stroke="none" stroke-width="1"/>
<line x1="561.39" y1="214.64" x2="561.39" y2="217.24" stroke="#c4bcb4" stroke-width="0.9"/>
<circle cx="561.39" cy="214.74" r="0.85" fill="#8a8a8a" stroke="none" stroke-width="1"/>
<line x1="567.36" y1="219.42" x2="567.36" y2="222.02" stroke="#c4bcb4" stroke-width="0.9"/>
<circle cx="567.36" cy="219.52" r="0.85" fill="#8a8a8a" stroke="none" stroke-width="1"/>
<line x1="573.33" y1="224.20" x2="573.33" y2="226.80" stroke="#c4bcb4" stroke-width="0.9"/>
<circle cx="573.33" cy="224.30" r="0.85" fill="#8a8a8a" stroke="none" stroke-width="1"/>
<line x1="579.30" y1="228.97" x2="579.30" y2="231.57" stroke="#c4bcb4" stroke-width="0.9"/>
<circle cx="579.30" cy="229.07" r="0.85" fill="#8a8a8a" stroke="none" stroke-width="1"/>
<line x1="585.27" y1="233.75" x2="585.27" y2="236.35" stroke="#c4bcb4" stroke-width="0.9"/>
<circle cx="585.27" cy="233.85" r="0.85" fill="#8a8a8a" stroke="none" stroke-width="1"/>
<line x1="591.24" y1="238.53" x2="591.24" y2="241.13" stroke="#c4bcb4" stroke-width="0.9"/>
<circle cx="591.24" cy="238.63" r="0.85" fill="#8a8a8a" stroke="none" stroke-width="1"/>
<line x1="597.21" y1="243.31" x2="597.21" y2="245.91" stroke="#c4bcb4" stroke-width="0.9"/>
<circle cx="597.21" cy="243.41" r="0.85" fill="#8a8a8a" stroke="none" stroke-width="1"/>
<line x1="566.95" y1="210.35" x2="566.95" y2="212.95" stroke="#c4bcb4" stroke-width="0.9"/>
<circle cx="566.95" cy="210.45" r="0.85" fill="#8a8a8a" stroke="none" stroke-width="1"/>
<line x1="572.85" y1="215.03" x2="572.85" y2="217.62" stroke="#c4bcb4" stroke-width="0.9"/>
<circle cx="572.85" cy="215.12" r="0.85" fill="#8a8a8a" stroke="none" stroke-width="1"/>
<line x1="578.74" y1="219.70" x2="578.74" y2="222.30" stroke="#c4bcb4" stroke-width="0.9"/>
<circle cx="578.74" cy="219.80" r="0.85" fill="#8a8a8a" stroke="none" stroke-width="1"/>
<line x1="584.64" y1="224.38" x2="584.64" y2="226.98" stroke="#c4bcb4" stroke-width="0.9"/>
<circle cx="584.64" cy="224.48" r="0.85" fill="#8a8a8a" stroke="none" stroke-width="1"/>
<line x1="590.54" y1="229.06" x2="590.54" y2="231.66" stroke="#c4bcb4" stroke-width="0.9"/>
<circle cx="590.54" cy="229.16" r="0.85" fill="#8a8a8a" stroke="none" stroke-width="1"/>
<line x1="596.44" y1="233.74" x2="596.44" y2="236.34" stroke="#c4bcb4" stroke-width="0.9"/>
<circle cx="596.44" cy="233.84" r="0.85" fill="#8a8a8a" stroke="none" stroke-width="1"/>
<line x1="602.34" y1="238.42" x2="602.34" y2="241.02" stroke="#c4bcb4" stroke-width="0.9"/>
<circle cx="602.34" cy="238.52" r="0.85" fill="#8a8a8a" stroke="none" stroke-width="1"/>
<line x1="572.51" y1="206.05" x2="572.51" y2="208.65" stroke="#c4bcb4" stroke-width="0.9"/>
<circle cx="572.51" cy="206.15" r="0.85" fill="#8a8a8a" stroke="none" stroke-width="1"/>
<line x1="578.34" y1="210.63" x2="578.34" y2="213.23" stroke="#c4bcb4" stroke-width="0.9"/>
<circle cx="578.34" cy="210.73" r="0.85" fill="#8a8a8a" stroke="none" stroke-width="1"/>
<line x1="584.16" y1="215.21" x2="584.16" y2="217.81" stroke="#c4bcb4" stroke-width="0.9"/>
<circle cx="584.16" cy="215.31" r="0.85" fill="#8a8a8a" stroke="none" stroke-width="1"/>
<line x1="589.99" y1="219.79" x2="589.99" y2="222.39" stroke="#c4bcb4" stroke-width="0.9"/>
<circle cx="589.99" cy="219.89" r="0.85" fill="#8a8a8a" stroke="none" stroke-width="1"/>
<line x1="595.81" y1="224.37" x2="595.81" y2="226.97" stroke="#c4bcb4" stroke-width="0.9"/>
<circle cx="595.81" cy="224.47" r="0.85" fill="#8a8a8a" stroke="none" stroke-width="1"/>
<line x1="601.63" y1="228.95" x2="601.63" y2="231.55" stroke="#c4bcb4" stroke-width="0.9"/>
<circle cx="601.63" cy="229.05" r="0.85" fill="#8a8a8a" stroke="none" stroke-width="1"/>
<line x1="607.46" y1="233.53" x2="607.46" y2="236.12" stroke="#c4bcb4" stroke-width="0.9"/>
<circle cx="607.46" cy="233.62" r="0.85" fill="#8a8a8a" stroke="none" stroke-width="1"/>
<line x1="578.08" y1="201.76" x2="578.08" y2="204.36" stroke="#c4bcb4" stroke-width="0.9"/>
<circle cx="578.08" cy="201.86" r="0.85" fill="#8a8a8a" stroke="none" stroke-width="1"/>
<line x1="583.83" y1="206.24" x2="583.83" y2="208.84" stroke="#c4bcb4" stroke-width="0.9"/>
<circle cx="583.83" cy="206.34" r="0.85" fill="#8a8a8a" stroke="none" stroke-width="1"/>
<line x1="589.58" y1="210.72" x2="589.58" y2="213.32" stroke="#c4bcb4" stroke-width="0.9"/>
<circle cx="589.58" cy="210.82" r="0.85" fill="#8a8a8a" stroke="none" stroke-width="1"/>
<line x1="595.33" y1="215.20" x2="595.33" y2="217.80" stroke="#c4bcb4" stroke-width="0.9"/>
<circle cx="595.33" cy="215.30" r="0.85" fill="#8a8a8a" stroke="none" stroke-width="1"/>
<line x1="601.08" y1="219.68" x2="601.08" y2="222.28" stroke="#c4bcb4" stroke-width="0.9"/>
<circle cx="601.08" cy="219.78" r="0.85" fill="#8a8a8a" stroke="none" stroke-width="1"/>
<line x1="606.83" y1="224.15" x2="606.83" y2="226.75" stroke="#c4bcb4" stroke-width="0.9"/>
<circle cx="606.83" cy="224.25" r="0.85" fill="#8a8a8a" stroke="none" stroke-width="1"/>
<line x1="612.58" y1="228.63" x2="612.58" y2="231.23" stroke="#c4bcb4" stroke-width="0.9"/>
<circle cx="612.58" cy="228.73" r="0.85" fill="#8a8a8a" stroke="none" stroke-width="1"/>
<line x1="579.30" y1="185.00" x2="573.40" y2="217.60" stroke="#36a2dc" stroke-width="2.6" stroke-linecap="butt"/>
<circle cx="579.30" cy="185.00" r="1.1700000000000002" fill="#8a7a6a" stroke="none" stroke-width="1"/>
<line x1="582.30" y1="190.80" x2="577.60" y2="215.00" stroke="#40a8e0" stroke-width="2.3" stroke-linecap="butt"/>
<circle cx="582.30" cy="190.80" r="1.035" fill="#8a7a6a" stroke="none" stroke-width="1"/>
<line x1="566.30" y1="213.20" x2="561.90" y2="239.60" stroke="#40a8e0" stroke-width="2.3" stroke-linecap="butt"/>
<circle cx="566.30" cy="213.20" r="1.035" fill="#8a7a6a" stroke="none" stroke-width="1"/>
<line x1="556.40" y1="223.10" x2="554.60" y2="234.10" stroke="#7cc0ea" stroke-width="1.5" stroke-linecap="butt"/>
<circle cx="556.40" cy="223.10" r="0.675" fill="#8a7a6a" stroke="none" stroke-width="1"/>
<line x1="548.70" y1="219.80" x2="548.70" y2="225.30" stroke="#b0b0b0" stroke-width="1.0" stroke-linecap="butt"/>
<circle cx="548.70" cy="219.80" r="0.45" fill="#8a7a6a" stroke="none" stroke-width="1"/>
<line x1="582.10" y1="215.40" x2="581.00" y2="223.10" stroke="#8cc8ee" stroke-width="1.4" stroke-linecap="butt"/>
<circle cx="582.10" cy="215.40" r="0.63" fill="#8a7a6a" stroke="none" stroke-width="1"/>
<line x1="551.50" y1="220.50" x2="551.00" y2="231.50" stroke="#9ccfee" stroke-width="1.2" stroke-linecap="butt"/>
<circle cx="551.50" cy="220.50" r="0.54" fill="#8a7a6a" stroke="none" stroke-width="1"/>
<rect x="638.00" y="198.90" width="5.60" height="4.00" fill="#c0c0c0" stroke="none" stroke-width="1"/>
<rect x="638.00" y="202.90" width="5.60" height="4.10" fill="#1a90d8" stroke="none" stroke-width="1"/>
<rect x="638.00" y="207.00" width="5.60" height="4.40" fill="#5ab4e8" stroke="none" stroke-width="1"/>
<rect x="638.00" y="211.40" width="5.60" height="4.40" fill="#a6d8f2" stroke="none" stroke-width="1"/>
<rect x="638.00" y="215.80" width="5.60" height="4.70" fill="#eaf6fc" stroke="none" stroke-width="1"/>
<rect x="638.00" y="220.90" width="5.60" height="4.00" fill="#0a0a0a" stroke="none" stroke-width="1"/>
<line x1="643.60" y1="202.90" x2="644.40" y2="202.90" stroke="#666" stroke-width="0.3"/>
<text x="645.00" y="203.80" font-size="2.6" text-anchor="start" font-weight="normal" fill="#555" color="#555">00.000</text>
<line x1="643.60" y1="207.00" x2="644.40" y2="207.00" stroke="#666" stroke-width="0.3"/>
<text x="645.00" y="207.90" font-size="2.6" text-anchor="start" font-weight="normal" fill="#555" color="#555">00.000</text>
<line x1="643.60" y1="211.40" x2="644.40" y2="211.40" stroke="#666" stroke-width="0.3"/>
<text x="645.00" y="212.30" font-size="2.6" text-anchor="start" font-weight="normal" fill="#555" color="#555">00.000</text>
<line x1="643.60" y1="215.80" x2="644.40" y2="215.80" stroke="#666" stroke-width="0.3"/>
<text x="645.00" y="216.70" font-size="2.6" text-anchor="start" font-weight="normal" fill="#555" color="#555">00.000</text>
<line x1="643.60" y1="220.50" x2="644.40" y2="220.50" stroke="#666" stroke-width="0.3"/>
<text x="645.00" y="221.40" font-size="2.6" text-anchor="start" font-weight="normal" fill="#555" color="#555">00.000</text>
<text x="539.20" y="177.20" font-size="7.59" text-anchor="start" font-weight="normal" fill="#1a1a1a" color="#1a1a1a" textLength="28.88" lengthAdjust="spacingAndGlyphs">FL sPD-1</text>
<text x="533.30" y="237.00" font-size="4.4" text-anchor="start" font-weight="normal" fill="#333" color="#333" transform="rotate(41 533.3 237.0)" textLength="52" lengthAdjust="spacingAndGlyphs">Days post tumor implantation</text>
<text x="611.00" y="249.00" font-size="4.95" text-anchor="middle" font-weight="normal" fill="#333" color="#333" transform="rotate(-58 611.0 249.0)" textLength="9.5" lengthAdjust="spacingAndGlyphs">mice</text>
<text x="631.00" y="217.00" font-size="3.63" text-anchor="middle" font-weight="normal" fill="#333" color="#333" transform="rotate(-68 631.0 217.0)" textLength="20.35" lengthAdjust="spacingAndGlyphs">sPD-1 (ng/ml)</text>
</svg>
</body></html>
